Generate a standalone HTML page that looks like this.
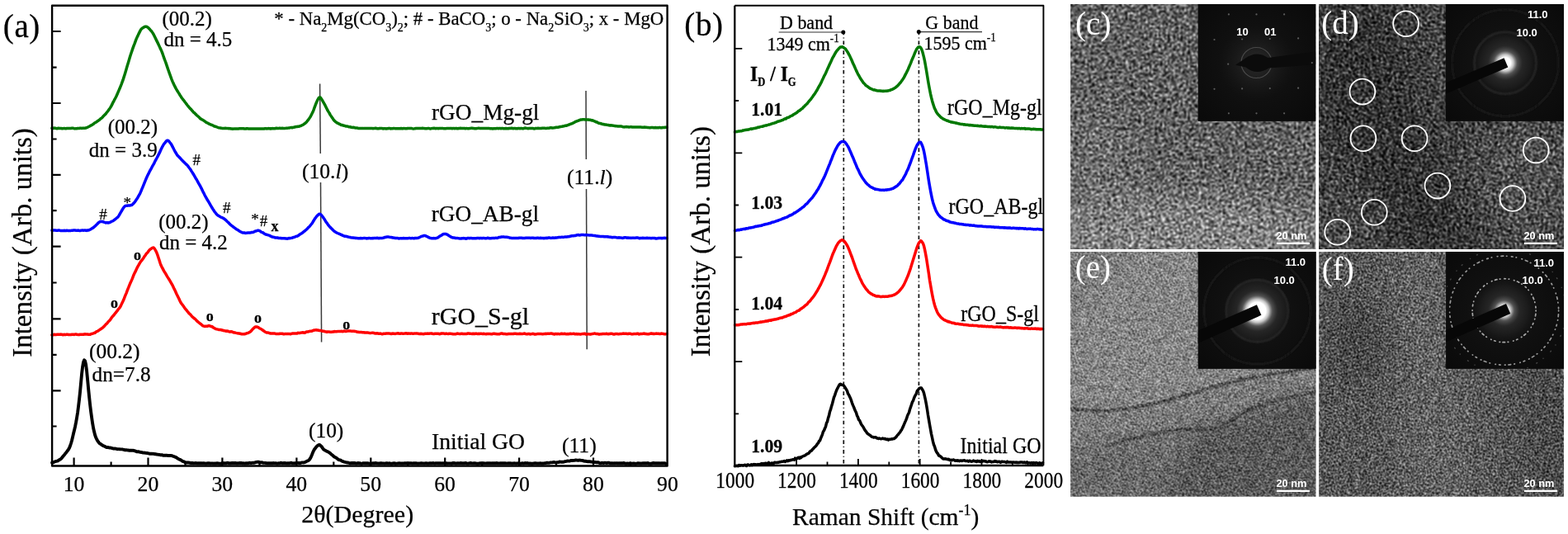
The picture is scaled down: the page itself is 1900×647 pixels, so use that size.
<!DOCTYPE html>
<html lang="en"><head><meta charset="utf-8"><title>Figure</title>
<style>html,body{margin:0;padding:0;background:#fff}body{width:1900px;height:647px;overflow:hidden}svg{display:block}</style></head>
<body>
<svg width="1900" height="647" viewBox="0 0 1900 647">
<rect width="1900" height="647" fill="#fff"/>
<g id="tem"><defs>
<filter id="txc" x="0" y="0" width="100%" height="100%" filterUnits="objectBoundingBox" color-interpolation-filters="sRGB"><feTurbulence type="fractalNoise" baseFrequency="0.45" numOctaves="1" seed="11" result="n"/><feColorMatrix in="n" type="matrix" values="1 0 0 0 0 1 0 0 0 0 1 0 0 0 0 0 0 0 0 1" result="g"/><feGaussianBlur in="g" stdDeviation="0.9" result="gb"/><feComposite in="SourceGraphic" in2="gb" operator="arithmetic" k1="0" k2="1" k3="3.1" k4="-1.55" result="c1"/><feTurbulence type="fractalNoise" baseFrequency="0.1" numOctaves="2" seed="14" result="n2"/><feColorMatrix in="n2" type="matrix" values="1 0 0 0 0 1 0 0 0 0 1 0 0 0 0 0 0 0 0 1" result="g2"/><feComposite in="c1" in2="g2" operator="arithmetic" k1="0" k2="1" k3="0.2" k4="-0.1"/><feComponentTransfer><feFuncR type="gamma" exponent="1.25"/><feFuncG type="gamma" exponent="1.25"/><feFuncB type="gamma" exponent="1.25"/></feComponentTransfer></filter>
<filter id="txd" x="0" y="0" width="100%" height="100%" filterUnits="objectBoundingBox" color-interpolation-filters="sRGB"><feTurbulence type="fractalNoise" baseFrequency="0.62" numOctaves="1" seed="23" result="n"/><feColorMatrix in="n" type="matrix" values="1 0 0 0 0 1 0 0 0 0 1 0 0 0 0 0 0 0 0 1" result="g"/><feGaussianBlur in="g" stdDeviation="0.9" result="gb"/><feComposite in="SourceGraphic" in2="gb" operator="arithmetic" k1="0" k2="1" k3="4.6" k4="-2.3" result="c1"/><feTurbulence type="fractalNoise" baseFrequency="0.12" numOctaves="2" seed="26" result="n2"/><feColorMatrix in="n2" type="matrix" values="1 0 0 0 0 1 0 0 0 0 1 0 0 0 0 0 0 0 0 1" result="g2"/><feComposite in="c1" in2="g2" operator="arithmetic" k1="0" k2="1" k3="0.25" k4="-0.125"/><feComponentTransfer><feFuncR type="gamma" exponent="1.6"/><feFuncG type="gamma" exponent="1.6"/><feFuncB type="gamma" exponent="1.6"/></feComponentTransfer></filter>
<filter id="txe" x="0" y="0" width="100%" height="100%" filterUnits="objectBoundingBox" color-interpolation-filters="sRGB"><feTurbulence type="fractalNoise" baseFrequency="0.7" numOctaves="1" seed="37" result="n"/><feColorMatrix in="n" type="matrix" values="1 0 0 0 0 1 0 0 0 0 1 0 0 0 0 0 0 0 0 1" result="g"/><feConvolveMatrix in="g" order="3" kernelMatrix="1 2 1 2 4 2 1 2 1" edgeMode="duplicate" preserveAlpha="true" result="gb"/><feComposite in="SourceGraphic" in2="gb" operator="arithmetic" k1="0" k2="1" k3="2.2" k4="-1.1" result="c1"/><feTurbulence type="fractalNoise" baseFrequency="0.12" numOctaves="2" seed="40" result="n2"/><feColorMatrix in="n2" type="matrix" values="1 0 0 0 0 1 0 0 0 0 1 0 0 0 0 0 0 0 0 1" result="g2"/><feComposite in="c1" in2="g2" operator="arithmetic" k1="0" k2="1" k3="0.22" k4="-0.11"/><feComponentTransfer><feFuncR type="gamma" exponent="1.2"/><feFuncG type="gamma" exponent="1.2"/><feFuncB type="gamma" exponent="1.2"/></feComponentTransfer></filter>
<filter id="txf" x="0" y="0" width="100%" height="100%" filterUnits="objectBoundingBox" color-interpolation-filters="sRGB"><feTurbulence type="fractalNoise" baseFrequency="0.7" numOctaves="1" seed="41" result="n"/><feColorMatrix in="n" type="matrix" values="1 0 0 0 0 1 0 0 0 0 1 0 0 0 0 0 0 0 0 1" result="g"/><feConvolveMatrix in="g" order="3" kernelMatrix="1 2 1 2 4 2 1 2 1" edgeMode="duplicate" preserveAlpha="true" result="gb"/><feComposite in="SourceGraphic" in2="gb" operator="arithmetic" k1="0" k2="1" k3="2.6" k4="-1.3" result="c1"/><feTurbulence type="fractalNoise" baseFrequency="0.12" numOctaves="2" seed="44" result="n2"/><feColorMatrix in="n2" type="matrix" values="1 0 0 0 0 1 0 0 0 0 1 0 0 0 0 0 0 0 0 1" result="g2"/><feComposite in="c1" in2="g2" operator="arithmetic" k1="0" k2="1" k3="0.22" k4="-0.11"/><feComponentTransfer><feFuncR type="gamma" exponent="1.3"/><feFuncG type="gamma" exponent="1.3"/><feFuncB type="gamma" exponent="1.3"/></feComponentTransfer></filter>
<filter id="sb3" filterUnits="userSpaceOnUse" x="1200" y="-100" width="800" height="850" color-interpolation-filters="sRGB"><feGaussianBlur stdDeviation="3"/></filter>
<filter id="sb6" filterUnits="userSpaceOnUse" x="1200" y="-100" width="800" height="850" color-interpolation-filters="sRGB"><feGaussianBlur stdDeviation="6"/></filter>
<filter id="sb12" filterUnits="userSpaceOnUse" x="1200" y="-100" width="800" height="850" color-interpolation-filters="sRGB"><feGaussianBlur stdDeviation="12"/></filter>
<filter id="sb20" filterUnits="userSpaceOnUse" x="1200" y="-100" width="800" height="850" color-interpolation-filters="sRGB"><feGaussianBlur stdDeviation="20"/></filter>
<filter id="sb1" filterUnits="userSpaceOnUse" x="1200" y="-100" width="800" height="850" color-interpolation-filters="sRGB"><feGaussianBlur stdDeviation="1.3"/></filter>
<filter id="bl1" x="-20%" y="-20%" width="140%" height="140%"><feGaussianBlur stdDeviation="0.6"/></filter>
<filter id="bl2" x="-50%" y="-50%" width="200%" height="200%"><feGaussianBlur stdDeviation="1.2"/></filter>
<radialGradient id="glowD"><stop offset="0" stop-color="#fff"/><stop offset="0.163" stop-color="#fff"/><stop offset="0.253" stop-color="#ccc" stop-opacity="0.95"/><stop offset="0.363" stop-color="#666" stop-opacity="0.75"/><stop offset="0.522" stop-color="#3a3a3a" stop-opacity="0.5"/><stop offset="0.762" stop-color="#2a2a2a" stop-opacity="0.4"/><stop offset="1" stop-color="#1a1a1a" stop-opacity="0"/></radialGradient>
<radialGradient id="glowE"><stop offset="0" stop-color="#fff"/><stop offset="0.263" stop-color="#fff"/><stop offset="0.353" stop-color="#ccc" stop-opacity="0.95"/><stop offset="0.463" stop-color="#666" stop-opacity="0.75"/><stop offset="0.623" stop-color="#3a3a3a" stop-opacity="0.5"/><stop offset="0.863" stop-color="#2a2a2a" stop-opacity="0.4"/><stop offset="1" stop-color="#1a1a1a" stop-opacity="0"/></radialGradient>
<radialGradient id="glowF"><stop offset="0" stop-color="#fff"/><stop offset="0.113" stop-color="#fff"/><stop offset="0.203" stop-color="#ccc" stop-opacity="0.95"/><stop offset="0.312" stop-color="#666" stop-opacity="0.75"/><stop offset="0.472" stop-color="#3a3a3a" stop-opacity="0.5"/><stop offset="0.713" stop-color="#2a2a2a" stop-opacity="0.4"/><stop offset="1" stop-color="#1a1a1a" stop-opacity="0"/></radialGradient>
<radialGradient id="glowC"><stop offset="0" stop-color="#2c2c2c"/><stop offset="1" stop-color="#1a1a1a" stop-opacity="0"/></radialGradient>
<radialGradient id="vign"><stop offset="0" stop-color="#161616"/><stop offset="0.5" stop-color="#0f0f0f"/><stop offset="1" stop-color="#090909"/></radialGradient>
<clipPath id="cpc"><rect x="1297.1" y="5.1" width="297.2" height="296.9"/></clipPath>
<clipPath id="cic"><rect x="1451.7" y="5.1" width="142.6" height="141.6"/></clipPath>
<clipPath id="cpd"><rect x="1598.1" y="5.1" width="296.8" height="296.9"/></clipPath>
<clipPath id="cid"><rect x="1751.8" y="5.1" width="143.1" height="141.6"/></clipPath>
<clipPath id="cpe"><rect x="1297.1" y="304.9" width="297.5" height="296.8"/></clipPath>
<clipPath id="cie"><rect x="1451.7" y="304.9" width="142.9" height="141.9"/></clipPath>
<clipPath id="cpf"><rect x="1598.2" y="304.9" width="296.7" height="296.8"/></clipPath>
<clipPath id="cif"><rect x="1752.2" y="304.9" width="142.7" height="141.9"/></clipPath>
</defs>
<g clip-path="url(#cpc)"><g filter="url(#txc)">
<rect x="1267" y="-25" width="357" height="357" fill="#767676"/>
<g filter="url(#sb20)"><ellipse cx="1420" cy="285" rx="200" ry="50" fill="#969696"/><ellipse cx="1330" cy="190" rx="50" ry="60" fill="#828282"/></g>
</g></g>
<g clip-path="url(#cpd)"><g filter="url(#txd)">
<rect x="1568.2" y="-25" width="357" height="357" fill="#717171"/>
<g filter="url(#sb20)"><path d="M1590 0 L1700 0 L1720 120 L1800 310 L1700 310 L1640 200 L1590 150 Z" fill="#5e5e5e"/><ellipse cx="1850" cy="215" rx="60" ry="70" fill="#7e7e7e"/><ellipse cx="1620" cy="270" rx="40" ry="40" fill="#767676"/></g>
</g></g>
<g clip-path="url(#cpe)"><g filter="url(#txe)">
<rect x="1267" y="275" width="357" height="357" fill="#828282"/>
<g filter="url(#sb12)"><path d="M1280 492 C1320 500 1350 499 1386 491.7 S1450 474 1481.7 465.3 S1560 450 1610 444 L1610 290 L1280 290 Z" fill="#959595"/><path d="M1280 290 L1400 290 L1330 330 L1280 400 Z" fill="#8a8a8a"/><path d="M1280 496 L1386 495 L1481 469 L1610 447 L1610 468 L1520 490 L1457 514 L1400 520 L1340 534 L1280 540 Z" fill="#8c8c8c"/><path d="M1440 523 L1520 496 L1610 473 L1610 620 L1400 620 L1430 560 Z" fill="#6b6b6b"/><path d="M1280 545 L1400 530 L1430 560 L1400 620 L1280 620 Z" fill="#7b7b7b"/></g>
<g filter="url(#sb1)" fill="none" stroke-width="3.4"><path d="M1280 492 C1320 500 1350 499 1386 491.7 S1450 474 1481.7 465.3 S1560 450 1610 444" stroke="#545454"/><path d="M1340 540 C1370 532 1385 528 1400 525 S1440 517 1457.7 521 S1500 502 1520 494 S1570 481 1610 471" stroke="#585858"/></g>
</g></g>
<g clip-path="url(#cpf)"><g filter="url(#txf)">
<rect x="1568.2" y="275" width="357" height="357" fill="#6f6f6f"/>
<g filter="url(#sb20)"><path d="M1680 290 L1760 290 L1800 620 L1700 620 Z" fill="#7b7b7b"/><ellipse cx="1645" cy="415" rx="34" ry="48" fill="#5e5e5e"/><path d="M1840 440 L1910 440 L1910 620 L1860 620 Z" fill="#626262"/></g>
</g></g>
<g clip-path="url(#cic)">
<rect x="1451.7" y="5.1" width="142.6" height="141.6" fill="#0d0d0d"/>
<circle cx="1522.5" cy="76" r="105" fill="url(#vign)"/>
<circle cx="1522.5" cy="76" r="45" fill="url(#glowC)"/>
<circle cx="1522.5" cy="76" r="18.5" fill="none" stroke="#4a4a4a" stroke-width="1.2" filter="url(#bl1)"/>
<path d="M1497.0 78.8 L1508.5 71 Q1522.5 60.5 1536.5 70 L1594.5 62.5 V78 L1537.5 82.5 Q1522.5 92 1509.5 81.5 Z" fill="#0b0b0b"/>
<g fill="#5c5c5c" filter="url(#bl1)">
<circle cx="1488.9" cy="17.4" r="1.1"/>
<circle cx="1522.5" cy="17.4" r="1.1"/>
<circle cx="1556.1" cy="17.4" r="1.1"/>
<circle cx="1471.5" cy="48.0" r="1.1"/>
<circle cx="1505.1" cy="47.5" r="1.1"/>
<circle cx="1538.8" cy="47.1" r="1.1"/>
<circle cx="1573.1" cy="46.4" r="1.1"/>
<circle cx="1488.2" cy="77.7" r="1.1"/>
<circle cx="1589.8" cy="76.1" r="1.1"/>
<circle cx="1471.5" cy="107.8" r="1.1"/>
<circle cx="1505.1" cy="107.4" r="1.1"/>
<circle cx="1538.8" cy="107.1" r="1.1"/>
<circle cx="1573.1" cy="106.7" r="1.1"/>
<circle cx="1488.9" cy="137.3" r="1.1"/>
<circle cx="1522.5" cy="137.3" r="1.1"/>
<circle cx="1556.1" cy="137.3" r="1.1"/>
</g>
</g>
<g clip-path="url(#cid)">
<rect x="1751.8" y="5.1" width="143.1" height="141.6" fill="#0d0d0d"/>
<circle cx="1824" cy="76.2" r="105" fill="url(#vign)"/>
<g fill="none" filter="url(#bl2)">
<circle cx="1824" cy="76.2" r="37.5" stroke="#343434" stroke-width="1.6"/>
<circle cx="1824" cy="76.2" r="64.5" stroke="#1c1c1c" stroke-width="2"/>
</g>
<circle cx="1824" cy="76.2" r="40" fill="url(#glowD)"/>
<g transform="translate(1824 76.2) rotate(156.8)"><rect x="-1" y="-6.1" width="115" height="12.2" fill="#070707"/></g>
</g>
<g clip-path="url(#cie)">
<rect x="1451.7" y="304.9" width="142.9" height="141.9" fill="#0d0d0d"/>
<circle cx="1523.4" cy="376.6" r="105" fill="url(#vign)"/>
<g fill="none" filter="url(#bl2)">
<circle cx="1523.4" cy="376.6" r="37.5" stroke="#343434" stroke-width="1.6"/>
<circle cx="1523.4" cy="376.6" r="64.5" stroke="#1c1c1c" stroke-width="2"/>
</g>
<circle cx="1523.4" cy="376.6" r="40" fill="url(#glowE)"/>
<g transform="translate(1523.4 376.6) rotate(156.2)"><rect x="-2.5" y="-6.8" width="115" height="13.6" fill="#070707"/></g>
</g>
<g clip-path="url(#cif)">
<rect x="1752.2" y="304.9" width="142.7" height="141.9" fill="#0d0d0d"/>
<circle cx="1822.6" cy="376.2" r="105" fill="url(#vign)"/>
<circle cx="1822.6" cy="376.2" r="40" fill="url(#glowF)"/>
<g fill="none" stroke-linecap="round" filter="url(#bl1)">
<circle cx="1822.6" cy="376.2" r="38.5" stroke="#a8a8a8" stroke-width="1.7" stroke-dasharray="0.6 3.6 2.6 3.4 0.6 5 1.6 3.8 0.4 6"/>
<circle cx="1822.6" cy="376.2" r="66" stroke="#999" stroke-width="1.7" stroke-dasharray="0.6 4.2 2.8 3.8 0.6 5.4 1.6 4.2 0.4 6.6"/>
<circle cx="1822.6" cy="376.2" r="75" stroke="#444" stroke-width="1.4" stroke-dasharray="0.1 9 1 12"/>
</g>
<g transform="translate(1822.6 376.2) rotate(156.2)"><rect x="-5.5" y="-6.5" width="115" height="13" fill="#070707"/></g>
</g>
<g fill="none" stroke="#fff" stroke-width="1.8">
<circle cx="1703.6" cy="28.7" r="15.4"/>
<circle cx="1650.9" cy="111.1" r="15.4"/>
<circle cx="1651.9" cy="167.7" r="15.4"/>
<circle cx="1714.1" cy="167.7" r="15.4"/>
<circle cx="1861.2" cy="182" r="15.4"/>
<circle cx="1741.9" cy="225.1" r="15.4"/>
<circle cx="1832.9" cy="240.5" r="15.4"/>
<circle cx="1665.3" cy="257.2" r="15.4"/>
<circle cx="1620.7" cy="281.2" r="15.4"/>
</g>
<g font-family='"Liberation Serif", serif' font-size="39" fill="#fff">
<text x="1303.1" y="41.7">(c)</text><text x="1601.3" y="41.3">(d)</text><text x="1302.8" y="336.8">(e)</text><text x="1601.7" y="338.5">(f)</text>
</g>
<g font-family='"Liberation Sans", sans-serif' font-weight="bold" fill="#fff" font-size="13">
<text x="1498.3" y="43">10</text><text x="1532" y="43">01</text>
<text x="1851" y="22">11.0</text><text x="1837.5" y="43.6">10.0</text>
<text x="1557.5" y="322">11.0</text><text x="1543.5" y="344">10.0</text>
<text x="1858.5" y="322.7">11.0</text><text x="1844.5" y="344">10.0</text>
<text x="1546.5" y="289.5" font-size="12.8">20 nm</text>
<rect x="1546.9" y="293.7" width="40" height="2.3"/>
<text x="1846.5" y="289.5" font-size="12.8">20 nm</text>
<rect x="1846.9" y="293.7" width="40" height="2.3"/>
<text x="1546.5" y="589.5" font-size="12.8">20 nm</text>
<rect x="1546.9" y="593.7" width="40" height="2.3"/>
<text x="1846.5" y="589.5" font-size="12.8">20 nm</text>
<rect x="1846.9" y="593.7" width="40" height="2.3"/>
</g></g>
<g font-family='"Liberation Serif", serif' fill="#000" stroke="#000" stroke-width="0.25" stroke-linejoin="round">
<g stroke="#3a3a3a" stroke-width="1.5" fill="none">
<line x1="387.6" y1="101.5" x2="388.3" y2="186"/><line x1="388.5" y1="221" x2="389.6" y2="414.6"/>
<line x1="710" y1="110" x2="710.3" y2="193"/><line x1="710.5" y1="229" x2="711.2" y2="423.3"/>
</g>
<polyline points="63.1,560.7 64.1,560.5 65.1,560.0 66.1,559.5 67.1,559.2 68.1,558.8 69.1,558.6 70.1,558.3 71.1,557.6 72.1,557.0 73.1,556.5 74.1,555.7 75.1,554.5 76.1,553.2 77.1,552.1 78.1,550.9 79.1,549.6 80.1,548.4 81.1,547.1 82.1,545.8 83.1,544.3 84.1,542.5 85.1,540.0 86.1,537.0 87.1,533.5 88.1,529.4 89.1,525.0 90.1,521.0 91.1,516.7 92.1,511.7 93.1,506.0 94.1,499.7 95.1,492.1 96.1,483.6 97.1,474.2 98.1,463.4 99.1,452.7 100.1,444.3 101.1,438.7 102.1,436.3 103.1,437.4 104.1,441.8 105.1,449.6 106.1,459.9 107.1,470.8 108.1,480.7 109.1,490.1 110.1,498.4 111.1,505.8 112.1,512.7 113.1,518.5 114.1,523.1 115.1,527.0 116.1,529.9 117.1,532.0 118.1,533.9 119.1,535.3 120.1,536.6 121.1,537.6 122.1,538.1 123.1,538.9 124.1,539.5 125.1,540.1 126.1,540.4 127.1,540.9 128.1,541.5 129.1,542.0 130.1,542.2 131.1,542.0 132.1,542.3 133.1,542.6 134.1,542.5 135.1,542.8 136.1,543.2 137.1,543.5 138.1,543.6 139.1,543.5 140.1,543.6 141.1,543.8 142.1,544.2 143.1,544.1 144.1,544.1 145.1,544.3 146.1,544.4 147.1,544.4 148.1,544.4 149.1,544.7 150.1,544.9 151.1,545.2 152.1,545.3 153.1,545.3 154.1,545.4 155.1,545.5 156.1,545.7 157.1,545.8 158.1,545.8 159.1,545.7 160.1,545.9 161.1,545.8 162.1,545.9 163.1,546.3 164.1,546.5 165.1,547.0 166.1,547.4 167.1,547.2 168.1,547.3 169.1,547.6 170.1,547.9 171.1,548.0 172.1,548.1 173.1,548.5 174.1,548.6 175.1,548.5 176.1,548.8 177.1,548.9 178.1,549.0 179.1,549.2 180.1,549.4 181.1,549.7 182.1,549.8 183.1,549.8 184.1,549.8 185.1,549.9 186.1,549.8 187.1,550.0 188.1,550.3 189.1,550.2 190.1,550.6 191.1,550.6 192.1,550.9 193.1,550.9 194.1,551.2 195.1,551.2 196.1,551.1 197.1,551.6 198.1,551.9 199.1,551.7 200.1,551.6 201.1,551.7 202.1,551.7 203.1,552.0 204.1,552.0 205.1,552.0 206.1,551.9 207.1,552.0 208.1,552.1 209.1,552.6 210.1,552.8 211.1,553.2 212.1,553.6 213.1,554.0 214.1,554.6 215.1,555.3 216.1,555.9 217.1,556.4 218.1,556.9 219.1,557.3 220.1,558.0 221.1,558.9 222.1,559.1 223.1,559.4 224.1,560.1 225.1,560.5 226.1,560.3 227.1,560.5 228.1,560.5 229.1,560.5 230.1,560.9 231.1,561.0 232.1,561.0 233.1,561.0 234.1,561.2 235.1,561.1 236.1,561.1 237.1,561.0 238.1,561.1 239.1,561.4 240.1,561.3 241.1,561.3 242.1,561.3 243.1,561.2 244.1,561.2 245.1,561.4 246.1,561.3 247.1,561.3 248.1,561.4 249.1,561.6 250.1,561.5 251.1,561.4 252.1,561.1 253.1,561.1 254.1,561.4 255.1,561.5 256.1,561.4 257.1,561.4 258.1,561.5 259.1,561.6 260.1,561.5 261.1,561.4 262.1,561.5 263.1,561.2 264.1,561.4 265.1,561.5 266.1,561.6 267.1,561.8 268.1,561.6 269.1,561.1 270.1,561.0 271.1,561.3 272.1,561.2 273.1,561.3 274.1,561.3 275.1,560.9 276.1,560.8 277.1,561.2 278.1,561.3 279.1,561.3 280.1,561.2 281.1,561.0 282.1,560.9 283.1,561.1 284.1,561.0 285.1,560.9 286.1,561.3 287.1,561.3 288.1,561.3 289.1,561.1 290.1,561.0 291.1,561.0 292.1,561.0 293.1,561.2 294.1,561.1 295.1,561.3 296.1,561.4 297.1,561.5 298.1,561.2 299.1,561.3 300.1,561.2 301.1,561.1 302.1,560.8 303.1,560.9 304.1,561.1 305.1,560.9 306.1,560.8 307.1,560.7 308.1,560.8 309.1,560.4 310.1,560.0 311.1,559.9 312.1,559.7 313.1,559.6 314.1,560.1 315.1,560.6 316.1,560.4 317.1,560.3 318.1,560.4 319.1,560.9 320.1,560.9 321.1,560.9 322.1,561.0 323.1,561.1 324.1,561.3 325.1,561.3 326.1,561.2 327.1,561.1 328.1,561.2 329.1,561.2 330.1,561.3 331.1,561.0 332.1,561.1 333.1,561.1 334.1,561.1 335.1,561.5 336.1,561.5 337.1,561.3 338.1,561.3 339.1,561.1 340.1,560.7 341.1,561.0 342.1,561.2 343.1,561.1 344.1,560.9 345.1,561.0 346.1,561.2 347.1,561.4 348.1,561.3 349.1,561.2 350.1,561.3 351.1,561.1 352.1,560.9 353.1,560.8 354.1,561.3 355.1,561.4 356.1,561.3 357.1,561.2 358.1,561.1 359.1,561.0 360.1,560.9 361.1,560.9 362.1,561.0 363.1,561.2 364.1,561.0 365.1,560.7 366.1,560.4 367.1,560.4 368.1,560.5 369.1,560.2 370.1,559.8 371.1,559.2 372.1,558.6 373.1,558.2 374.1,557.7 375.1,556.6 376.1,555.1 377.1,553.1 378.1,550.7 379.1,548.1 380.1,546.0 381.1,544.3 382.1,543.0 383.1,541.6 384.1,540.6 385.1,539.8 386.1,539.1 387.1,538.9 388.1,539.6 389.1,540.5 390.1,541.6 391.1,543.2 392.1,544.6 393.1,545.2 394.1,545.8 395.1,546.3 396.1,546.9 397.1,547.2 398.1,547.8 399.1,548.6 400.1,549.1 401.1,550.1 402.1,551.0 403.1,551.7 404.1,552.6 405.1,553.6 406.1,554.1 407.1,554.6 408.1,555.2 409.1,556.1 410.1,556.9 411.1,557.3 412.1,557.4 413.1,557.8 414.1,558.4 415.1,558.9 416.1,559.3 417.1,559.6 418.1,559.9 419.1,560.1 420.1,560.3 421.1,560.5 422.1,560.7 423.1,561.0 424.1,561.3 425.1,561.2 426.1,561.0 427.1,560.9 428.1,561.1 429.1,560.9 430.1,561.0 431.1,561.4 432.1,561.5 433.1,561.2 434.1,561.0 435.1,561.1 436.1,561.2 437.1,561.5 438.1,561.8 439.1,561.5 440.1,561.1 441.1,561.1 442.1,561.2 443.1,561.2 444.1,561.1 445.1,561.2 446.1,561.2 447.1,561.6 448.1,561.7 449.1,561.6 450.1,561.4 451.1,561.4 452.1,561.3 453.1,561.3 454.1,561.2 455.1,561.0 456.1,561.1 457.1,561.4 458.1,561.4 459.1,561.5 460.1,561.5 461.1,561.1 462.1,561.1 463.1,561.4 464.1,561.4 465.1,561.4 466.1,561.6 467.1,561.4 468.1,561.1 469.1,561.2 470.1,561.5 471.1,561.4 472.1,561.2 473.1,561.6 474.1,561.7 475.1,561.7 476.1,561.4 477.1,561.3 478.1,561.3 479.1,561.8 480.1,561.6 481.1,561.6 482.1,561.4 483.1,561.3 484.1,561.1 485.1,561.3 486.1,561.5 487.1,561.3 488.1,561.5 489.1,561.5 490.1,561.2 491.1,561.2 492.1,561.3 493.1,561.3 494.1,561.2 495.1,561.2 496.1,561.2 497.1,561.1 498.1,561.1 499.1,561.4 500.1,561.5 501.1,561.2 502.1,561.3 503.1,561.2 504.1,561.2 505.1,561.5 506.1,561.5 507.1,561.6 508.1,561.4 509.1,561.4 510.1,561.3 511.1,561.3 512.1,561.4 513.1,561.4 514.1,561.5 515.1,561.4 516.1,561.2 517.1,561.3 518.1,561.5 519.1,561.5 520.1,561.3 521.1,561.2 522.1,561.1 523.1,561.3 524.1,561.1 525.1,561.0 526.1,561.3 527.1,561.5 528.1,561.1 529.1,561.1 530.1,561.1 531.1,561.2 532.1,561.3 533.1,561.2 534.1,561.3 535.1,561.4 536.1,561.3 537.1,561.4 538.1,561.2 539.1,561.0 540.1,561.1 541.1,561.6 542.1,561.5 543.1,561.4 544.1,561.4 545.1,561.4 546.1,561.5 547.1,561.7 548.1,561.2 549.1,561.0 550.1,561.0 551.1,561.1 552.1,561.5 553.1,561.5 554.1,561.2 555.1,561.1 556.1,561.3 557.1,561.4 558.1,561.0 559.1,561.2 560.1,561.3 561.1,561.4 562.1,561.2 563.1,561.2 564.1,561.0 565.1,561.2 566.1,561.6 567.1,561.6 568.1,561.3 569.1,561.1 570.1,561.0 571.1,561.2 572.1,561.4 573.1,561.4 574.1,561.3 575.1,561.2 576.1,561.3 577.1,561.5 578.1,561.8 579.1,561.8 580.1,561.5 581.1,561.3 582.1,561.3 583.1,561.2 584.1,561.2 585.1,561.3 586.1,561.2 587.1,561.4 588.1,561.4 589.1,561.4 590.1,561.3 591.1,561.2 592.1,561.2 593.1,561.3 594.1,561.3 595.1,561.4 596.1,561.3 597.1,561.2 598.1,561.2 599.1,561.1 600.1,561.2 601.1,561.2 602.1,561.0 603.1,561.3 604.1,561.4 605.1,561.4 606.1,561.3 607.1,561.2 608.1,561.2 609.1,561.2 610.1,561.3 611.1,561.3 612.1,561.2 613.1,561.4 614.1,561.4 615.1,561.4 616.1,561.3 617.1,561.4 618.1,561.2 619.1,561.4 620.1,561.5 621.1,561.5 622.1,561.4 623.1,561.3 624.1,561.4 625.1,561.5 626.1,561.5 627.1,561.4 628.1,561.2 629.1,561.5 630.1,561.7 631.1,561.7 632.1,561.4 633.1,561.2 634.1,561.5 635.1,561.3 636.1,561.0 637.1,561.2 638.1,561.1 639.1,561.0 640.1,561.3 641.1,561.6 642.1,561.4 643.1,561.5 644.1,561.8 645.1,561.8 646.1,561.5 647.1,561.3 648.1,561.1 649.1,561.2 650.1,561.5 651.1,561.5 652.1,561.5 653.1,561.5 654.1,561.3 655.1,561.3 656.1,561.5 657.1,561.5 658.1,561.5 659.1,561.3 660.1,561.1 661.1,561.1 662.1,560.8 663.1,560.7 664.1,560.9 665.1,560.9 666.1,560.7 667.1,560.4 668.1,560.4 669.1,560.4 670.1,560.2 671.1,560.0 672.1,560.2 673.1,560.5 674.1,560.3 675.1,560.1 676.1,560.1 677.1,560.0 678.1,559.4 679.1,559.6 680.1,559.8 681.1,559.8 682.1,559.8 683.1,559.6 684.1,559.2 685.1,559.1 686.1,558.9 687.1,558.6 688.1,558.5 689.1,558.6 690.1,558.6 691.1,558.2 692.1,558.0 693.1,558.0 694.1,558.0 695.1,557.9 696.1,557.9 697.1,557.5 698.1,557.5 699.1,557.6 700.1,557.8 701.1,557.8 702.1,557.5 703.1,557.6 704.1,557.9 705.1,557.9 706.1,558.0 707.1,558.5 708.1,558.7 709.1,558.7 710.1,558.8 711.1,559.1 712.1,559.2 713.1,559.3 714.1,559.2 715.1,559.3 716.1,559.5 717.1,559.7 718.1,559.9 719.1,560.0 720.1,559.9 721.1,560.0 722.1,560.1 723.1,560.3 724.1,560.2 725.1,560.3 726.1,560.8 727.1,561.1 728.1,561.1 729.1,560.8 730.1,560.9 731.1,561.1 732.1,560.9 733.1,560.7 734.1,560.9 735.1,561.0 736.1,560.8 737.1,560.7 738.1,560.8 739.1,561.2 740.1,561.1 741.1,561.2 742.1,561.3 743.1,561.4 744.1,561.3 745.1,561.3 746.1,561.1 747.1,561.1 748.1,561.2 749.1,561.4 750.1,561.3 751.1,561.2 752.1,561.2 753.1,561.3 754.1,561.3 755.1,561.0 756.1,561.0 757.1,561.4 758.1,561.8 759.1,561.7 760.1,561.4 761.1,561.6 762.1,561.8 763.1,561.4 764.1,561.4 765.1,561.6 766.1,561.6 767.1,561.5 768.1,561.4 769.1,561.8 770.1,561.8 771.1,561.6 772.1,561.4 773.1,561.1 774.1,561.3 775.1,561.4 776.1,561.5 777.1,561.5 778.1,561.3 779.1,561.1 780.1,561.3 781.1,561.2 782.1,561.2 783.1,561.2 784.1,561.1 785.1,561.0 786.1,561.5 787.1,561.6 788.1,561.7 789.1,561.8 790.1,561.4 791.1,561.0 792.1,561.0 793.1,561.1 794.1,561.2 795.1,561.2 796.1,561.1 797.1,561.2 798.1,561.2 799.1,561.3 800.1,561.4 801.1,561.3 802.1,561.3 803.1,561.2 804.1,561.1 805.1,561.1 806.1,561.4 807.1,561.9" fill="none" stroke="#000" stroke-width="3.9" stroke-linejoin="round" stroke-linecap="round"/>
<polyline points="63.0,405.9 64.0,405.7 65.0,405.5 66.0,405.3 67.0,405.5 68.0,405.4 69.0,405.3 70.0,405.2 71.0,405.3 72.0,405.2 73.0,405.2 74.0,405.1 75.0,405.3 76.0,405.7 77.0,405.4 78.0,405.3 79.0,405.4 80.0,405.4 81.0,405.1 82.0,405.3 83.0,405.5 84.0,405.4 85.0,405.4 86.0,405.5 87.0,405.3 88.0,405.2 89.0,405.3 90.0,405.4 91.0,405.0 92.0,405.0 93.0,405.2 94.0,405.4 95.0,405.5 96.0,405.5 97.0,405.2 98.0,405.3 99.0,405.2 100.0,405.2 101.0,405.3 102.0,405.0 103.0,404.8 104.0,404.9 105.0,404.9 106.0,405.0 107.0,405.2 108.0,405.3 109.0,405.3 110.0,404.9 111.0,404.4 112.0,404.2 113.0,403.9 114.0,403.5 115.0,403.2 116.0,402.5 117.0,401.7 118.0,401.4 119.0,400.8 120.0,400.1 121.0,399.4 122.0,398.7 123.0,398.0 124.0,397.4 125.0,396.5 126.0,395.6 127.0,394.5 128.0,393.3 129.0,392.4 130.0,391.4 131.0,390.2 132.0,389.0 133.0,388.2 134.0,386.8 135.0,385.2 136.0,383.9 137.0,382.8 138.0,381.7 139.0,380.4 140.0,379.2 141.0,377.9 142.0,376.7 143.0,375.2 144.0,374.0 145.0,372.8 146.0,371.3 147.0,369.1 148.0,367.0 149.0,364.9 150.0,362.8 151.0,360.2 152.0,357.7 153.0,355.3 154.0,352.6 155.0,350.1 156.0,347.7 157.0,345.1 158.0,342.8 159.0,340.6 160.0,338.4 161.0,335.8 162.0,333.2 163.0,331.1 164.0,329.1 165.0,327.0 166.0,324.8 167.0,322.9 168.0,321.2 169.0,319.4 170.0,317.7 171.0,316.3 172.0,315.2 173.0,313.8 174.0,312.4 175.0,310.8 176.0,309.5 177.0,307.9 178.0,306.7 179.0,305.8 180.0,304.3 181.0,303.0 182.0,302.1 183.0,301.4 184.0,300.8 185.0,300.2 186.0,300.1 187.0,301.1 188.0,302.5 189.0,304.3 190.0,306.5 191.0,309.2 192.0,312.2 193.0,315.2 194.0,318.5 195.0,321.3 196.0,323.3 197.0,325.1 198.0,327.1 199.0,329.0 200.0,330.4 201.0,332.1 202.0,333.9 203.0,335.6 204.0,337.1 205.0,338.7 206.0,340.4 207.0,342.1 208.0,343.8 209.0,345.6 210.0,347.7 211.0,349.9 212.0,351.8 213.0,354.0 214.0,356.2 215.0,358.2 216.0,360.2 217.0,362.2 218.0,364.5 219.0,366.5 220.0,368.0 221.0,369.2 222.0,370.6 223.0,372.0 224.0,373.4 225.0,374.8 226.0,375.8 227.0,377.1 228.0,378.3 229.0,379.6 230.0,380.5 231.0,381.4 232.0,382.6 233.0,383.7 234.0,384.6 235.0,385.5 236.0,386.2 237.0,387.0 238.0,388.3 239.0,389.3 240.0,390.0 241.0,390.8 242.0,391.7 243.0,392.4 244.0,393.2 245.0,394.1 246.0,394.9 247.0,395.1 248.0,395.5 249.0,395.3 250.0,395.2 251.0,395.3 252.0,395.0 253.0,394.6 254.0,394.8 255.0,395.2 256.0,395.5 257.0,395.8 258.0,396.5 259.0,397.2 260.0,397.7 261.0,398.3 262.0,398.7 263.0,398.9 264.0,399.1 265.0,399.4 266.0,399.5 267.0,399.5 268.0,399.7 269.0,400.1 270.0,400.2 271.0,400.5 272.0,400.7 273.0,400.9 274.0,401.2 275.0,401.0 276.0,401.2 277.0,401.5 278.0,402.0 279.0,402.1 280.0,401.7 281.0,401.9 282.0,402.4 283.0,402.8 284.0,403.0 285.0,403.1 286.0,403.4 287.0,403.6 288.0,403.8 289.0,404.0 290.0,403.9 291.0,404.3 292.0,404.5 293.0,404.8 294.0,404.8 295.0,404.7 296.0,404.8 297.0,404.5 298.0,404.2 299.0,403.8 300.0,403.6 301.0,403.3 302.0,402.8 303.0,402.1 304.0,401.3 305.0,400.2 306.0,399.0 307.0,398.0 308.0,397.1 309.0,396.2 310.0,395.9 311.0,396.0 312.0,396.3 313.0,396.7 314.0,397.5 315.0,398.0 316.0,398.5 317.0,399.0 318.0,399.8 319.0,400.5 320.0,401.2 321.0,402.0 322.0,402.5 323.0,403.0 324.0,403.1 325.0,403.1 326.0,403.4 327.0,403.8 328.0,404.0 329.0,404.1 330.0,404.0 331.0,403.9 332.0,404.0 333.0,404.0 334.0,404.4 335.0,404.4 336.0,404.4 337.0,404.5 338.0,404.6 339.0,404.3 340.0,404.2 341.0,404.2 342.0,404.2 343.0,404.5 344.0,404.8 345.0,404.6 346.0,404.6 347.0,404.4 348.0,404.5 349.0,404.4 350.0,404.4 351.0,404.6 352.0,404.7 353.0,404.4 354.0,404.1 355.0,404.0 356.0,404.0 357.0,404.0 358.0,404.0 359.0,403.9 360.0,403.9 361.0,403.3 362.0,403.4 363.0,403.5 364.0,403.3 365.0,403.1 366.0,403.0 367.0,402.8 368.0,403.0 369.0,403.3 370.0,402.9 371.0,402.2 372.0,401.9 373.0,401.9 374.0,401.8 375.0,401.4 376.0,401.2 377.0,401.3 378.0,401.1 379.0,400.6 380.0,400.2 381.0,400.0 382.0,399.9 383.0,399.7 384.0,400.0 385.0,400.0 386.0,400.2 387.0,400.6 388.0,400.6 389.0,400.5 390.0,401.0 391.0,401.3 392.0,401.3 393.0,401.5 394.0,401.8 395.0,401.9 396.0,402.3 397.0,401.9 398.0,401.9 399.0,402.1 400.0,402.2 401.0,402.2 402.0,402.2 403.0,402.1 404.0,402.1 405.0,401.6 406.0,401.7 407.0,401.7 408.0,401.7 409.0,401.6 410.0,401.4 411.0,401.4 412.0,401.5 413.0,401.4 414.0,401.3 415.0,401.7 416.0,401.6 417.0,401.0 418.0,401.2 419.0,401.6 420.0,401.3 421.0,401.1 422.0,401.0 423.0,400.9 424.0,401.0 425.0,401.1 426.0,401.3 427.0,401.3 428.0,401.2 429.0,401.3 430.0,401.5 431.0,401.6 432.0,401.9 433.0,402.2 434.0,402.3 435.0,402.4 436.0,402.5 437.0,402.5 438.0,402.6 439.0,402.7 440.0,402.8 441.0,402.8 442.0,403.1 443.0,403.1 444.0,403.0 445.0,403.0 446.0,403.1 447.0,403.3 448.0,403.4 449.0,403.6 450.0,403.4 451.0,403.2 452.0,403.3 453.0,403.4 454.0,403.8 455.0,404.1 456.0,404.0 457.0,403.7 458.0,403.9 459.0,404.3 460.0,404.2 461.0,404.1 462.0,404.4 463.0,404.7 464.0,404.5 465.0,404.2 466.0,404.2 467.0,404.2 468.0,404.0 469.0,403.9 470.0,404.0 471.0,404.0 472.0,404.1 473.0,404.3 474.0,404.5 475.0,404.2 476.0,404.1 477.0,404.2 478.0,404.3 479.0,404.4 480.0,404.1 481.0,403.9 482.0,403.8 483.0,404.0 484.0,404.2 485.0,404.2 486.0,404.0 487.0,404.1 488.0,404.2 489.0,404.3 490.0,404.1 491.0,404.0 492.0,403.8 493.0,404.0 494.0,404.3 495.0,403.9 496.0,404.1 497.0,404.2 498.0,404.1 499.0,404.1 500.0,404.2 501.0,404.2 502.0,404.1 503.0,403.9 504.0,404.1 505.0,404.1 506.0,404.1 507.0,404.3 508.0,404.5 509.0,404.5 510.0,404.3 511.0,404.5 512.0,404.6 513.0,404.7 514.0,404.6 515.0,404.3 516.0,404.3 517.0,404.3 518.0,404.1 519.0,404.2 520.0,404.2 521.0,404.1 522.0,403.9 523.0,404.0 524.0,404.3 525.0,404.5 526.0,404.5 527.0,404.3 528.0,404.2 529.0,404.2 530.0,404.3 531.0,404.3 532.0,404.5 533.0,404.7 534.0,404.3 535.0,404.0 536.0,404.0 537.0,403.9 538.0,404.1 539.0,404.5 540.0,404.3 541.0,404.1 542.0,404.4 543.0,404.6 544.0,404.3 545.0,404.2 546.0,404.2 547.0,404.4 548.0,404.5 549.0,404.7 550.0,404.7 551.0,404.7 552.0,404.7 553.0,404.5 554.0,404.1 555.0,404.2 556.0,404.4 557.0,404.4 558.0,404.5 559.0,404.3 560.0,404.3 561.0,404.6 562.0,404.6 563.0,404.5 564.0,404.6 565.0,404.6 566.0,404.3 567.0,403.9 568.0,404.0 569.0,404.2 570.0,404.2 571.0,404.4 572.0,404.6 573.0,404.3 574.0,404.3 575.0,404.6 576.0,404.3 577.0,404.1 578.0,404.4 579.0,404.4 580.0,404.3 581.0,404.4 582.0,404.3 583.0,404.2 584.0,404.4 585.0,404.5 586.0,404.3 587.0,404.4 588.0,404.6 589.0,404.8 590.0,404.5 591.0,404.6 592.0,404.5 593.0,404.4 594.0,404.6 595.0,404.7 596.0,404.7 597.0,404.5 598.0,404.3 599.0,404.3 600.0,404.5 601.0,404.6 602.0,404.7 603.0,404.7 604.0,404.7 605.0,404.8 606.0,404.4 607.0,404.1 608.0,404.0 609.0,404.2 610.0,404.6 611.0,404.5 612.0,404.6 613.0,404.7 614.0,404.9 615.0,404.7 616.0,404.5 617.0,404.4 618.0,404.5 619.0,404.4 620.0,404.4 621.0,404.5 622.0,404.6 623.0,404.3 624.0,404.3 625.0,404.3 626.0,404.5 627.0,404.6 628.0,404.6 629.0,404.5 630.0,404.3 631.0,404.5 632.0,404.5 633.0,404.6 634.0,404.4 635.0,404.0 636.0,404.2 637.0,404.6 638.0,404.8 639.0,404.7 640.0,404.5 641.0,404.4 642.0,404.8 643.0,404.9 644.0,404.6 645.0,404.4 646.0,404.3 647.0,404.7 648.0,405.1 649.0,404.9 650.0,404.8 651.0,404.6 652.0,404.5 653.0,404.6 654.0,404.4 655.0,404.4 656.0,404.6 657.0,404.7 658.0,404.7 659.0,404.6 660.0,404.4 661.0,404.3 662.0,404.4 663.0,404.3 664.0,404.2 665.0,404.2 666.0,404.3 667.0,404.1 668.0,404.1 669.0,404.2 670.0,404.5 671.0,404.8 672.0,404.9 673.0,404.4 674.0,404.4 675.0,404.7 676.0,404.6 677.0,404.6 678.0,404.8 679.0,404.6 680.0,404.3 681.0,404.3 682.0,404.6 683.0,404.6 684.0,404.3 685.0,404.4 686.0,404.7 687.0,404.7 688.0,404.6 689.0,404.7 690.0,404.6 691.0,404.3 692.0,404.5 693.0,404.6 694.0,404.4 695.0,404.2 696.0,404.5 697.0,404.8 698.0,404.8 699.0,404.5 700.0,404.9 701.0,404.6 702.0,404.8 703.0,404.9 704.0,404.9 705.0,404.6 706.0,404.4 707.0,404.6 708.0,404.3 709.0,404.3 710.0,405.0 711.0,405.0 712.0,404.9 713.0,404.7 714.0,404.9 715.0,405.1 716.0,405.0 717.0,404.6 718.0,404.4 719.0,404.3 720.0,404.1 721.0,404.1 722.0,404.4 723.0,404.4 724.0,404.5 725.0,404.7 726.0,405.0 727.0,404.9 728.0,404.7 729.0,404.7 730.0,404.5 731.0,404.5 732.0,404.6 733.0,404.4 734.0,404.4 735.0,404.3 736.0,404.6 737.0,404.8 738.0,404.5 739.0,404.5 740.0,404.3 741.0,404.2 742.0,404.4 743.0,404.9 744.0,405.1 745.0,404.7 746.0,404.5 747.0,404.6 748.0,404.6 749.0,404.7 750.0,404.7 751.0,404.6 752.0,404.6 753.0,404.4 754.0,404.3 755.0,404.1 756.0,404.2 757.0,404.2 758.0,404.3 759.0,404.3 760.0,404.5 761.0,404.5 762.0,404.2 763.0,404.2 764.0,404.3 765.0,404.7 766.0,404.9 767.0,404.7 768.0,404.6 769.0,404.6 770.0,404.4 771.0,404.6 772.0,404.3 773.0,404.1 774.0,404.9 775.0,404.8 776.0,404.4 777.0,404.4 778.0,404.4 779.0,404.3 780.0,404.1 781.0,404.2 782.0,404.5 783.0,404.6 784.0,404.7 785.0,404.7 786.0,404.8 787.0,404.4 788.0,404.3 789.0,404.0 790.0,404.1 791.0,404.5 792.0,404.3 793.0,404.4 794.0,404.3 795.0,404.1 796.0,404.2 797.0,404.2 798.0,404.3 799.0,404.5 800.0,404.5 801.0,404.2 802.0,404.1 803.0,404.3 804.0,404.4 805.0,404.7 806.0,404.9 807.0,404.6 808.0,404.4" fill="none" stroke="#f00" stroke-width="3.5" stroke-linejoin="round" stroke-linecap="round"/>
<polyline points="63.0,279.1 64.0,279.0 65.0,279.0 66.0,279.0 67.0,279.1 68.0,279.2 69.0,279.3 70.0,279.2 71.0,279.1 72.0,279.1 73.0,279.4 74.0,279.4 75.0,279.5 76.0,279.5 77.0,279.4 78.0,279.3 79.0,279.4 80.0,279.5 81.0,279.2 82.0,279.4 83.0,279.5 84.0,279.4 85.0,279.4 86.0,279.4 87.0,279.2 88.0,279.2 89.0,279.1 90.0,279.0 91.0,279.1 92.0,279.2 93.0,279.2 94.0,279.2 95.0,279.1 96.0,279.4 97.0,279.5 98.0,279.3 99.0,279.1 100.0,279.1 101.0,279.2 102.0,279.1 103.0,278.9 104.0,279.2 105.0,279.4 106.0,278.9 107.0,279.0 108.0,278.8 109.0,278.3 110.0,277.8 111.0,277.0 112.0,276.4 113.0,275.9 114.0,275.0 115.0,274.1 116.0,273.2 117.0,272.2 118.0,271.3 119.0,270.2 120.0,269.4 121.0,268.7 122.0,268.6 123.0,268.5 124.0,268.4 125.0,268.8 126.0,269.1 127.0,269.5 128.0,269.9 129.0,269.8 130.0,269.8 131.0,270.0 132.0,269.8 133.0,269.6 134.0,269.0 135.0,268.4 136.0,268.0 137.0,267.6 138.0,266.9 139.0,266.1 140.0,265.3 141.0,264.5 142.0,263.7 143.0,262.9 144.0,261.4 145.0,259.6 146.0,257.9 147.0,256.2 148.0,254.5 149.0,252.7 150.0,251.2 151.0,250.2 152.0,249.4 153.0,249.2 154.0,249.2 155.0,249.1 156.0,249.0 157.0,249.0 158.0,248.8 159.0,248.5 160.0,248.2 161.0,247.3 162.0,246.2 163.0,245.1 164.0,243.8 165.0,242.2 166.0,240.8 167.0,239.2 168.0,237.4 169.0,235.7 170.0,233.7 171.0,231.3 172.0,228.9 173.0,226.6 174.0,224.2 175.0,221.7 176.0,219.1 177.0,216.8 178.0,214.4 179.0,212.3 180.0,210.4 181.0,208.3 182.0,206.4 183.0,204.6 184.0,202.7 185.0,200.8 186.0,199.1 187.0,197.3 188.0,195.1 189.0,193.3 190.0,191.5 191.0,189.6 192.0,187.6 193.0,185.6 194.0,183.6 195.0,181.3 196.0,179.3 197.0,177.3 198.0,175.5 199.0,174.1 200.0,172.9 201.0,171.6 202.0,170.5 203.0,170.2 204.0,170.5 205.0,171.5 206.0,172.8 207.0,174.0 208.0,175.6 209.0,177.6 210.0,179.5 211.0,181.5 212.0,183.3 213.0,185.0 214.0,186.7 215.0,188.2 216.0,189.2 217.0,190.2 218.0,191.3 219.0,192.4 220.0,193.5 221.0,194.5 222.0,195.6 223.0,196.5 224.0,197.5 225.0,198.4 226.0,199.4 227.0,200.3 228.0,201.6 229.0,203.0 230.0,204.3 231.0,205.6 232.0,207.4 233.0,208.9 234.0,210.5 235.0,212.2 236.0,213.9 237.0,215.7 238.0,217.2 239.0,219.0 240.0,220.9 241.0,222.7 242.0,224.4 243.0,226.2 244.0,228.1 245.0,230.2 246.0,232.3 247.0,234.1 248.0,236.3 249.0,238.2 250.0,239.9 251.0,241.8 252.0,243.3 253.0,244.9 254.0,246.6 255.0,248.4 256.0,250.1 257.0,251.8 258.0,253.4 259.0,254.8 260.0,256.5 261.0,257.7 262.0,259.0 263.0,260.1 264.0,260.9 265.0,261.5 266.0,262.1 267.0,262.8 268.0,263.3 269.0,263.7 270.0,264.1 271.0,264.6 272.0,265.4 273.0,266.3 274.0,267.0 275.0,268.2 276.0,269.0 277.0,269.9 278.0,271.0 279.0,272.0 280.0,272.9 281.0,273.6 282.0,274.3 283.0,275.2 284.0,275.9 285.0,276.6 286.0,277.4 287.0,278.0 288.0,278.6 289.0,279.2 290.0,280.0 291.0,280.6 292.0,281.0 293.0,281.6 294.0,282.0 295.0,282.1 296.0,282.0 297.0,282.3 298.0,282.4 299.0,282.2 300.0,282.1 301.0,281.9 302.0,282.0 303.0,281.9 304.0,281.8 305.0,281.5 306.0,281.5 307.0,281.2 308.0,280.8 309.0,280.2 310.0,279.9 311.0,279.8 312.0,279.3 313.0,279.3 314.0,279.5 315.0,279.9 316.0,280.7 317.0,281.4 318.0,281.6 319.0,282.1 320.0,283.0 321.0,283.6 322.0,284.0 323.0,284.3 324.0,284.5 325.0,284.9 326.0,285.1 327.0,285.5 328.0,286.2 329.0,286.6 330.0,287.1 331.0,287.2 332.0,287.4 333.0,287.8 334.0,288.1 335.0,288.1 336.0,288.0 337.0,288.3 338.0,288.6 339.0,288.5 340.0,288.5 341.0,288.8 342.0,288.8 343.0,288.7 344.0,288.8 345.0,288.8 346.0,289.0 347.0,289.1 348.0,289.2 349.0,289.0 350.0,288.6 351.0,288.7 352.0,288.6 353.0,288.4 354.0,288.2 355.0,287.7 356.0,287.4 357.0,287.3 358.0,286.8 359.0,286.3 360.0,286.2 361.0,285.7 362.0,285.0 363.0,284.3 364.0,283.6 365.0,283.0 366.0,282.4 367.0,281.7 368.0,280.7 369.0,280.1 370.0,279.2 371.0,278.3 372.0,277.5 373.0,276.4 374.0,275.3 375.0,274.5 376.0,273.2 377.0,272.0 378.0,270.7 379.0,269.2 380.0,267.5 381.0,265.9 382.0,264.3 383.0,263.1 384.0,261.7 385.0,260.7 386.0,260.0 387.0,259.3 388.0,259.4 389.0,260.3 390.0,261.3 391.0,262.5 392.0,264.0 393.0,265.4 394.0,267.1 395.0,268.8 396.0,270.1 397.0,271.5 398.0,272.9 399.0,274.1 400.0,275.2 401.0,276.3 402.0,277.1 403.0,278.2 404.0,279.2 405.0,280.1 406.0,280.8 407.0,281.4 408.0,282.0 409.0,282.5 410.0,282.9 411.0,283.2 412.0,283.7 413.0,284.3 414.0,284.6 415.0,285.1 416.0,285.6 417.0,286.0 418.0,286.3 419.0,286.3 420.0,286.4 421.0,286.8 422.0,287.1 423.0,287.3 424.0,287.4 425.0,287.7 426.0,287.9 427.0,288.0 428.0,288.1 429.0,288.2 430.0,288.3 431.0,288.5 432.0,288.6 433.0,288.6 434.0,288.8 435.0,288.7 436.0,288.7 437.0,288.6 438.0,288.7 439.0,288.8 440.0,288.6 441.0,288.4 442.0,288.4 443.0,288.6 444.0,288.9 445.0,288.8 446.0,288.7 447.0,288.5 448.0,288.6 449.0,288.8 450.0,288.8 451.0,288.6 452.0,288.7 453.0,288.6 454.0,288.5 455.0,288.5 456.0,288.4 457.0,288.3 458.0,288.6 459.0,288.7 460.0,288.5 461.0,288.4 462.0,288.6 463.0,288.4 464.0,288.3 465.0,288.1 466.0,287.6 467.0,287.5 468.0,287.2 469.0,287.1 470.0,287.0 471.0,287.1 472.0,287.3 473.0,287.4 474.0,287.5 475.0,287.7 476.0,288.0 477.0,288.1 478.0,288.3 479.0,288.5 480.0,288.5 481.0,288.5 482.0,288.6 483.0,288.9 484.0,288.9 485.0,288.7 486.0,288.7 487.0,288.9 488.0,288.7 489.0,288.6 490.0,288.7 491.0,288.7 492.0,288.8 493.0,288.8 494.0,288.8 495.0,288.6 496.0,288.6 497.0,288.6 498.0,288.8 499.0,288.6 500.0,288.6 501.0,288.8 502.0,288.8 503.0,288.5 504.0,288.4 505.0,288.4 506.0,288.4 507.0,288.2 508.0,287.7 509.0,287.2 510.0,286.7 511.0,286.3 512.0,286.1 513.0,285.8 514.0,285.4 515.0,285.5 516.0,285.9 517.0,286.4 518.0,286.8 519.0,287.4 520.0,287.9 521.0,288.4 522.0,288.6 523.0,288.7 524.0,288.7 525.0,288.7 526.0,288.6 527.0,288.8 528.0,288.7 529.0,288.4 530.0,288.1 531.0,287.6 532.0,286.7 533.0,286.1 534.0,285.7 535.0,285.1 536.0,284.3 537.0,283.7 538.0,283.5 539.0,283.4 540.0,283.4 541.0,283.8 542.0,284.2 543.0,284.8 544.0,285.6 545.0,286.2 546.0,286.8 547.0,287.4 548.0,287.8 549.0,288.0 550.0,288.1 551.0,288.2 552.0,288.6 553.0,288.6 554.0,288.4 555.0,288.6 556.0,288.8 557.0,288.9 558.0,289.1 559.0,289.0 560.0,288.8 561.0,288.7 562.0,288.6 563.0,288.8 564.0,289.0 565.0,289.2 566.0,288.8 567.0,288.5 568.0,288.6 569.0,288.7 570.0,288.6 571.0,288.6 572.0,288.7 573.0,288.8 574.0,288.7 575.0,288.7 576.0,288.8 577.0,288.7 578.0,288.6 579.0,288.5 580.0,288.6 581.0,288.7 582.0,288.5 583.0,288.6 584.0,288.7 585.0,288.6 586.0,288.6 587.0,288.6 588.0,288.8 589.0,288.8 590.0,288.6 591.0,288.3 592.0,288.4 593.0,288.7 594.0,288.8 595.0,288.7 596.0,288.6 597.0,288.4 598.0,288.4 599.0,288.4 600.0,288.4 601.0,288.2 602.0,288.4 603.0,288.3 604.0,287.8 605.0,287.5 606.0,287.5 607.0,287.2 608.0,286.9 609.0,287.1 610.0,287.1 611.0,287.1 612.0,287.3 613.0,287.3 614.0,287.3 615.0,287.5 616.0,287.6 617.0,287.9 618.0,288.2 619.0,288.3 620.0,288.4 621.0,288.6 622.0,288.6 623.0,288.6 624.0,288.5 625.0,288.6 626.0,288.6 627.0,288.6 628.0,288.6 629.0,288.3 630.0,288.3 631.0,288.2 632.0,288.3 633.0,288.5 634.0,288.6 635.0,288.4 636.0,288.4 637.0,288.3 638.0,288.2 639.0,288.2 640.0,288.3 641.0,288.2 642.0,288.3 643.0,288.4 644.0,288.3 645.0,288.2 646.0,288.2 647.0,288.5 648.0,288.4 649.0,288.6 650.0,288.5 651.0,288.3 652.0,288.3 653.0,288.6 654.0,288.6 655.0,288.3 656.0,288.4 657.0,288.5 658.0,288.6 659.0,288.7 660.0,288.4 661.0,288.4 662.0,288.3 663.0,288.6 664.0,288.2 665.0,288.0 666.0,288.1 667.0,288.3 668.0,288.4 669.0,288.2 670.0,288.1 671.0,288.2 672.0,288.2 673.0,288.0 674.0,288.0 675.0,287.9 676.0,287.7 677.0,287.6 678.0,287.5 679.0,287.4 680.0,287.4 681.0,287.2 682.0,287.4 683.0,287.3 684.0,287.1 685.0,286.9 686.0,286.9 687.0,286.9 688.0,286.8 689.0,286.7 690.0,286.5 691.0,286.2 692.0,286.0 693.0,285.8 694.0,285.8 695.0,285.7 696.0,285.5 697.0,285.5 698.0,285.2 699.0,284.7 700.0,284.7 701.0,284.6 702.0,284.9 703.0,285.0 704.0,284.6 705.0,284.5 706.0,284.5 707.0,284.6 708.0,284.7 709.0,284.7 710.0,284.6 711.0,284.8 712.0,284.7 713.0,284.9 714.0,285.1 715.0,285.1 716.0,285.0 717.0,285.1 718.0,285.2 719.0,285.4 720.0,285.6 721.0,285.5 722.0,285.8 723.0,286.0 724.0,286.0 725.0,286.2 726.0,286.3 727.0,286.4 728.0,286.4 729.0,286.6 730.0,286.6 731.0,286.4 732.0,286.7 733.0,286.7 734.0,286.7 735.0,286.7 736.0,286.7 737.0,287.0 738.0,287.1 739.0,287.3 740.0,287.3 741.0,287.6 742.0,287.7 743.0,287.6 744.0,287.6 745.0,287.6 746.0,287.6 747.0,287.8 748.0,287.9 749.0,287.9 750.0,287.8 751.0,287.9 752.0,287.9 753.0,288.1 754.0,288.4 755.0,288.3 756.0,288.0 757.0,287.8 758.0,287.8 759.0,287.9 760.0,288.2 761.0,288.1 762.0,288.2 763.0,288.2 764.0,288.3 765.0,288.4 766.0,288.2 767.0,288.2 768.0,288.2 769.0,288.4 770.0,288.2 771.0,288.1 772.0,288.1 773.0,288.1 774.0,288.5 775.0,288.7 776.0,288.5 777.0,288.5 778.0,288.5 779.0,288.3 780.0,288.4 781.0,288.4 782.0,288.5 783.0,288.6 784.0,288.3 785.0,288.5 786.0,288.5 787.0,288.5 788.0,288.6 789.0,288.7 790.0,288.6 791.0,288.6 792.0,288.6 793.0,288.4 794.0,288.8 795.0,289.0 796.0,288.9 797.0,288.7 798.0,288.4 799.0,288.5 800.0,288.4 801.0,288.5 802.0,288.7 803.0,288.5 804.0,288.4 805.0,288.3 806.0,288.5 807.0,288.6 808.0,288.5" fill="none" stroke="#00f" stroke-width="3.5" stroke-linejoin="round" stroke-linecap="round"/>
<polyline points="63.0,155.3 64.0,155.5 65.0,155.2 66.0,155.1 67.0,155.3 68.0,155.6 69.0,155.8 70.0,155.5 71.0,155.3 72.0,155.4 73.0,155.5 74.0,155.5 75.0,155.7 76.0,155.8 77.0,155.6 78.0,155.6 79.0,155.7 80.0,155.7 81.0,155.5 82.0,155.6 83.0,155.5 84.0,155.4 85.0,155.5 86.0,155.4 87.0,155.3 88.0,155.2 89.0,155.4 90.0,155.7 91.0,155.9 92.0,155.7 93.0,155.7 94.0,155.5 95.0,155.5 96.0,155.5 97.0,155.3 98.0,155.3 99.0,155.4 100.0,155.3 101.0,155.2 102.0,155.3 103.0,155.2 104.0,155.1 105.0,154.7 106.0,154.3 107.0,153.8 108.0,153.3 109.0,152.7 110.0,152.1 111.0,151.7 112.0,151.1 113.0,150.4 114.0,149.4 115.0,148.8 116.0,148.3 117.0,147.7 118.0,146.9 119.0,146.2 120.0,145.6 121.0,144.7 122.0,143.8 123.0,143.1 124.0,142.2 125.0,141.1 126.0,140.1 127.0,139.0 128.0,138.1 129.0,136.8 130.0,135.5 131.0,134.2 132.0,132.8 133.0,131.4 134.0,129.9 135.0,128.1 136.0,126.1 137.0,124.0 138.0,122.3 139.0,120.3 140.0,118.5 141.0,116.5 142.0,114.3 143.0,111.9 144.0,109.6 145.0,107.3 146.0,104.8 147.0,102.3 148.0,99.6 149.0,97.0 150.0,93.9 151.0,90.7 152.0,87.4 153.0,84.0 154.0,80.6 155.0,77.3 156.0,74.0 157.0,70.6 158.0,67.2 159.0,64.2 160.0,61.4 161.0,58.4 162.0,55.6 163.0,53.1 164.0,50.4 165.0,47.7 166.0,45.3 167.0,43.4 168.0,41.1 169.0,39.1 170.0,37.1 171.0,35.4 172.0,34.4 173.0,33.8 174.0,33.2 175.0,32.6 176.0,32.2 177.0,32.2 178.0,32.5 179.0,33.0 180.0,33.9 181.0,34.9 182.0,36.1 183.0,37.2 184.0,38.4 185.0,39.9 186.0,41.5 187.0,43.5 188.0,45.6 189.0,47.6 190.0,49.6 191.0,51.6 192.0,53.7 193.0,55.9 194.0,58.1 195.0,60.1 196.0,62.4 197.0,65.0 198.0,68.0 199.0,70.8 200.0,73.5 201.0,76.1 202.0,79.1 203.0,82.1 204.0,85.0 205.0,87.9 206.0,90.7 207.0,93.4 208.0,96.1 209.0,98.6 210.0,100.8 211.0,102.9 212.0,104.9 213.0,106.9 214.0,108.6 215.0,110.3 216.0,111.9 217.0,113.4 218.0,115.2 219.0,116.6 220.0,118.2 221.0,119.6 222.0,120.8 223.0,122.1 224.0,123.5 225.0,124.8 226.0,126.1 227.0,127.5 228.0,128.7 229.0,129.9 230.0,131.0 231.0,132.1 232.0,133.1 233.0,134.3 234.0,135.4 235.0,136.4 236.0,137.2 237.0,138.2 238.0,139.3 239.0,140.2 240.0,141.0 241.0,141.8 242.0,142.9 243.0,143.9 244.0,144.4 245.0,145.0 246.0,145.6 247.0,146.0 248.0,146.9 249.0,147.6 250.0,148.4 251.0,148.8 252.0,149.3 253.0,149.9 254.0,150.4 255.0,150.8 256.0,151.2 257.0,151.5 258.0,152.0 259.0,152.6 260.0,153.1 261.0,153.3 262.0,153.6 263.0,154.0 264.0,154.4 265.0,154.7 266.0,154.9 267.0,155.0 268.0,155.2 269.0,155.4 270.0,155.5 271.0,155.5 272.0,155.4 273.0,155.3 274.0,155.4 275.0,155.4 276.0,155.6 277.0,155.7 278.0,155.6 279.0,155.8 280.0,156.0 281.0,156.0 282.0,156.2 283.0,156.1 284.0,155.9 285.0,156.0 286.0,156.0 287.0,156.0 288.0,156.0 289.0,155.9 290.0,155.8 291.0,155.8 292.0,155.8 293.0,155.8 294.0,155.7 295.0,155.8 296.0,156.0 297.0,156.0 298.0,156.0 299.0,155.7 300.0,155.8 301.0,155.9 302.0,155.9 303.0,156.0 304.0,156.1 305.0,156.0 306.0,156.0 307.0,156.0 308.0,156.1 309.0,156.0 310.0,156.1 311.0,156.1 312.0,156.0 313.0,156.0 314.0,156.1 315.0,156.1 316.0,156.1 317.0,156.0 318.0,156.0 319.0,156.0 320.0,156.0 321.0,155.8 322.0,155.6 323.0,155.9 324.0,155.8 325.0,155.6 326.0,155.7 327.0,155.7 328.0,156.0 329.0,155.8 330.0,155.6 331.0,155.7 332.0,155.7 333.0,155.8 334.0,155.5 335.0,155.3 336.0,155.5 337.0,155.5 338.0,155.4 339.0,155.2 340.0,155.5 341.0,155.6 342.0,155.3 343.0,155.4 344.0,155.4 345.0,155.6 346.0,155.4 347.0,155.2 348.0,155.3 349.0,155.1 350.0,154.9 351.0,154.9 352.0,154.6 353.0,154.4 354.0,154.7 355.0,154.4 356.0,154.2 357.0,154.1 358.0,153.7 359.0,153.5 360.0,153.5 361.0,153.3 362.0,153.2 363.0,153.0 364.0,152.6 365.0,152.3 366.0,151.8 367.0,151.2 368.0,150.7 369.0,149.9 370.0,149.2 371.0,148.3 372.0,147.1 373.0,145.8 374.0,144.6 375.0,143.1 376.0,141.6 377.0,139.7 378.0,137.7 379.0,135.8 380.0,133.4 381.0,130.5 382.0,127.9 383.0,125.2 384.0,122.9 385.0,120.8 386.0,119.0 387.0,117.9 388.0,118.0 389.0,119.1 390.0,120.6 391.0,122.3 392.0,124.2 393.0,125.9 394.0,127.7 395.0,129.7 396.0,131.7 397.0,133.8 398.0,135.4 399.0,136.9 400.0,138.9 401.0,140.4 402.0,141.9 403.0,143.2 404.0,144.9 405.0,146.1 406.0,147.0 407.0,147.9 408.0,148.6 409.0,149.1 410.0,149.7 411.0,150.1 412.0,150.6 413.0,151.2 414.0,151.5 415.0,151.6 416.0,152.1 417.0,152.3 418.0,152.5 419.0,152.9 420.0,153.0 421.0,153.0 422.0,153.4 423.0,153.8 424.0,153.7 425.0,154.0 426.0,154.3 427.0,154.4 428.0,154.3 429.0,154.5 430.0,154.8 431.0,155.0 432.0,154.9 433.0,155.0 434.0,155.4 435.0,155.5 436.0,155.5 437.0,155.4 438.0,155.5 439.0,155.6 440.0,155.6 441.0,155.4 442.0,155.5 443.0,155.4 444.0,155.4 445.0,155.5 446.0,155.5 447.0,155.5 448.0,155.5 449.0,155.4 450.0,155.5 451.0,155.6 452.0,155.7 453.0,155.6 454.0,155.4 455.0,155.3 456.0,155.5 457.0,155.7 458.0,155.9 459.0,155.7 460.0,155.5 461.0,155.6 462.0,155.4 463.0,155.5 464.0,155.9 465.0,155.8 466.0,155.7 467.0,155.8 468.0,155.9 469.0,155.8 470.0,155.7 471.0,155.4 472.0,155.4 473.0,155.8 474.0,155.9 475.0,155.7 476.0,155.7 477.0,155.6 478.0,155.6 479.0,155.8 480.0,155.8 481.0,155.7 482.0,155.7 483.0,155.8 484.0,155.8 485.0,155.7 486.0,155.5 487.0,155.7 488.0,155.9 489.0,155.6 490.0,155.6 491.0,155.8 492.0,155.8 493.0,155.7 494.0,155.4 495.0,155.5 496.0,155.4 497.0,155.5 498.0,155.6 499.0,155.6 500.0,155.9 501.0,156.1 502.0,155.9 503.0,155.7 504.0,155.5 505.0,155.4 506.0,155.4 507.0,155.4 508.0,155.4 509.0,155.4 510.0,155.5 511.0,155.4 512.0,155.3 513.0,155.4 514.0,155.6 515.0,155.7 516.0,155.8 517.0,155.8 518.0,155.6 519.0,155.6 520.0,155.6 521.0,155.9 522.0,155.9 523.0,155.6 524.0,155.4 525.0,155.5 526.0,155.3 527.0,155.4 528.0,155.7 529.0,155.6 530.0,155.6 531.0,155.7 532.0,155.5 533.0,155.6 534.0,155.5 535.0,155.5 536.0,155.6 537.0,155.6 538.0,155.8 539.0,155.7 540.0,155.8 541.0,155.6 542.0,155.6 543.0,155.4 544.0,155.4 545.0,155.6 546.0,155.6 547.0,155.5 548.0,155.7 549.0,155.6 550.0,155.6 551.0,155.7 552.0,155.6 553.0,155.5 554.0,155.8 555.0,155.7 556.0,155.5 557.0,155.4 558.0,155.3 559.0,155.4 560.0,155.6 561.0,155.5 562.0,155.4 563.0,155.5 564.0,155.8 565.0,155.6 566.0,155.6 567.0,155.8 568.0,155.7 569.0,155.6 570.0,155.4 571.0,155.3 572.0,155.3 573.0,155.5 574.0,155.6 575.0,155.7 576.0,155.7 577.0,155.7 578.0,155.6 579.0,155.4 580.0,155.2 581.0,155.4 582.0,155.4 583.0,155.4 584.0,155.5 585.0,155.4 586.0,155.4 587.0,155.5 588.0,155.6 589.0,155.5 590.0,155.6 591.0,155.5 592.0,155.5 593.0,155.6 594.0,155.8 595.0,155.7 596.0,155.8 597.0,155.9 598.0,155.8 599.0,155.7 600.0,155.8 601.0,155.7 602.0,155.6 603.0,155.6 604.0,155.7 605.0,155.6 606.0,155.6 607.0,155.7 608.0,155.5 609.0,155.5 610.0,155.7 611.0,155.8 612.0,155.7 613.0,155.6 614.0,155.7 615.0,155.8 616.0,155.8 617.0,155.5 618.0,155.6 619.0,155.5 620.0,155.3 621.0,155.5 622.0,155.7 623.0,155.6 624.0,155.5 625.0,155.7 626.0,155.8 627.0,155.7 628.0,155.5 629.0,155.6 630.0,155.7 631.0,155.5 632.0,155.5 633.0,155.7 634.0,155.8 635.0,155.4 636.0,155.1 637.0,155.2 638.0,155.4 639.0,155.6 640.0,155.7 641.0,155.6 642.0,155.5 643.0,155.5 644.0,155.5 645.0,155.5 646.0,155.6 647.0,156.0 648.0,155.8 649.0,155.5 650.0,155.4 651.0,155.4 652.0,155.3 653.0,155.4 654.0,155.5 655.0,155.6 656.0,155.5 657.0,155.3 658.0,155.2 659.0,155.2 660.0,155.3 661.0,155.4 662.0,155.4 663.0,155.3 664.0,155.3 665.0,155.2 666.0,155.0 667.0,154.7 668.0,154.8 669.0,155.0 670.0,155.1 671.0,154.9 672.0,154.7 673.0,154.5 674.0,154.3 675.0,154.2 676.0,154.2 677.0,154.0 678.0,153.7 679.0,153.5 680.0,153.4 681.0,153.2 682.0,152.9 683.0,152.9 684.0,152.6 685.0,152.3 686.0,152.3 687.0,152.0 688.0,151.6 689.0,151.3 690.0,150.8 691.0,150.4 692.0,150.0 693.0,149.8 694.0,149.2 695.0,148.8 696.0,148.2 697.0,147.6 698.0,147.2 699.0,146.8 700.0,146.4 701.0,146.1 702.0,145.6 703.0,145.3 704.0,144.9 705.0,144.9 706.0,144.8 707.0,144.8 708.0,144.8 709.0,144.9 710.0,145.0 711.0,145.0 712.0,144.9 713.0,145.0 714.0,145.2 715.0,145.2 716.0,145.5 717.0,145.9 718.0,145.8 719.0,146.3 720.0,146.8 721.0,147.1 722.0,147.7 723.0,147.8 724.0,148.5 725.0,149.0 726.0,149.3 727.0,149.4 728.0,149.7 729.0,150.0 730.0,150.4 731.0,150.5 732.0,150.8 733.0,151.1 734.0,151.0 735.0,151.2 736.0,151.4 737.0,151.4 738.0,151.8 739.0,151.9 740.0,151.8 741.0,152.0 742.0,152.1 743.0,152.2 744.0,152.4 745.0,152.5 746.0,152.7 747.0,152.7 748.0,152.9 749.0,153.0 750.0,153.1 751.0,153.0 752.0,153.0 753.0,153.1 754.0,153.4 755.0,153.7 756.0,153.9 757.0,153.8 758.0,153.7 759.0,153.6 760.0,153.7 761.0,153.8 762.0,154.0 763.0,153.9 764.0,153.7 765.0,153.8 766.0,154.0 767.0,154.0 768.0,154.0 769.0,154.1 770.0,154.0 771.0,154.0 772.0,153.9 773.0,153.9 774.0,154.1 775.0,154.0 776.0,154.0 777.0,154.1 778.0,154.3 779.0,154.3 780.0,154.2 781.0,154.1 782.0,154.2 783.0,154.2 784.0,154.4 785.0,154.5 786.0,154.6 787.0,154.8 788.0,154.7 789.0,154.6 790.0,154.6 791.0,154.6 792.0,154.7 793.0,154.7 794.0,154.5 795.0,154.7 796.0,154.8 797.0,154.8 798.0,154.7 799.0,154.5 800.0,154.5 801.0,154.9 802.0,154.7 803.0,154.5 804.0,154.6 805.0,154.6 806.0,154.3 807.0,154.2 808.0,154.3" fill="none" stroke="#007800" stroke-width="3.5" stroke-linejoin="round" stroke-linecap="round"/>
<rect x="63.1" y="6.8" width="745.5" height="557.7" fill="none" stroke="#000" stroke-width="2.4"/>
<path d="M63.1 38h10.5 M63.1 81.6h5.5 M63.1 125h10.5 M63.1 168.5h5.5 M63.1 211.8h10.5 M63.1 255.2h5.5 M63.1 298.7h10.5 M63.1 342.5h5.5 M63.1 386.3h10.5 M63.1 429.8h5.5 M63.1 473.3h10.5 M63.1 516.5h5.5 M89.6 564.5v-10 M134.6 564.5v-5 M179.5 564.5v-10 M224.5 564.5v-5 M269.4 564.5v-10 M314.4 564.5v-5 M359.4 564.5v-10 M404.3 564.5v-5 M449.3 564.5v-10 M494.2 564.5v-5 M539.2 564.5v-10 M584.2 564.5v-5 M629.1 564.5v-10 M674.1 564.5v-5 M719.0 564.5v-10 M764.0 564.5v-5" stroke="#000" stroke-width="2.2" fill="none"/>
<g font-size="25.7" text-anchor="middle">
<text x="89.5" y="595.2">10</text>
<text x="179.4" y="595.2">20</text>
<text x="269.3" y="595.2">30</text>
<text x="359.3" y="595.2">40</text>
<text x="449.2" y="595.2">50</text>
<text x="539.1" y="595.2">60</text>
<text x="629.0" y="595.2">70</text>
<text x="718.9" y="595.2">80</text>
<text x="808.9" y="595.2">90</text>
</g>
<text x="433.2" y="632.5" font-size="30" text-anchor="middle">2θ(Degree)</text>
<text transform="translate(38.4 294) rotate(-90)" font-size="33" text-anchor="middle">Intensity (Arb. units)</text>
<text x="3.8" y="44.8" font-size="39" letter-spacing="0.6">(a)</text>
<g font-size="25">
<text x="196.5" y="31">(00.2)</text><text x="198.5" y="55.7">dn = 4.5</text>
<text x="130.8" y="161.6">(00.2)</text><text x="107.8" y="189.5">dn = 3.9</text>
<text x="192.3" y="276.5">(00.2)</text><text x="193" y="301.6">dn = 4.2</text>
<text x="108" y="433.6" font-size="25.5">(00.2)</text><text x="111.5" y="461.9" font-size="25.3">dn=7.8</text>
<text x="366" y="215.6" font-size="25.6">(10.<tspan font-style="italic">l</tspan>)</text>
<text x="687" y="223.2" font-size="25.6">(11.<tspan font-style="italic">l</tspan>)</text>
<text x="374" y="529.6" font-size="25.4">(10)</text>
<text x="681" y="547.5" font-size="25.6">(11)</text>
</g>
<g font-size="27.3">
<text x="523" y="144.5">rGO_Mg-gl</text>
<text x="522.7" y="268">rGO_AB-gl</text>
<text x="522.8" y="393.2" font-size="30">rGO_S-gl</text>
<text x="523" y="544" font-size="27.7">Initial GO</text>
</g>
<text id="legend" x="332.3" y="29.5" font-size="22.8">* - Na<tspan font-size="14" dy="8">2</tspan><tspan dy="-8">Mg(CO</tspan><tspan font-size="14" dy="8">3</tspan><tspan dy="-8">)</tspan><tspan font-size="14" dy="8">2</tspan><tspan dy="-8">; # - BaCO</tspan><tspan font-size="14" dy="8">3</tspan><tspan dy="-8">; o - Na</tspan><tspan font-size="14" dy="8">2</tspan><tspan dy="-8">SiO</tspan><tspan font-size="14" dy="8">3</tspan><tspan dy="-8">; x - MgO</tspan></text>
<g font-size="19" text-anchor="middle">
<text x="125.1" y="265.5">#</text>
<text x="154.3" y="252">*</text>
<text x="238.2" y="199.8">#</text>
<text x="274.8" y="258">#</text>
<text x="309" y="271.5">*</text>
<text x="319.4" y="274">#</text>
</g>
<g font-size="18" font-weight="bold" text-anchor="middle">
<text x="333.1" y="279.5">x</text>
<text x="166.5" y="315">o</text>
<text x="138.5" y="373">o</text>
<text x="254.2" y="389">o</text>
<text x="312.4" y="390.5">o</text>
<text x="419.7" y="399">o</text>
</g>
<g stroke="#111" stroke-width="1.7" fill="none" stroke-dasharray="4.6 3.1 1 3.1" stroke-dashoffset="1.3">
<line x1="1022.3" y1="39" x2="1022.3" y2="564.0"/><line x1="1113.4" y1="39" x2="1113.4" y2="564.0"/>
</g>
<polyline points="890.5,564.8 891.5,564.6 892.5,564.5 893.5,564.6 894.5,564.7 895.5,563.5 896.5,564.2 897.5,563.9 898.5,563.7 899.5,563.9 900.5,564.0 901.5,563.8 902.5,563.3 903.5,563.6 904.5,564.5 905.5,563.2 906.5,562.9 907.5,563.6 908.5,563.7 909.5,563.5 910.5,562.8 911.5,563.6 912.5,562.8 913.5,562.6 914.5,562.7 915.5,562.8 916.5,563.1 917.5,563.0 918.5,562.6 919.5,562.9 920.5,562.5 921.5,562.8 922.5,561.7 923.5,561.6 924.5,562.4 925.5,561.5 926.5,561.8 927.5,561.8 928.5,561.6 929.5,561.5 930.5,562.1 931.5,560.4 932.5,561.7 933.5,562.2 934.5,561.2 935.5,561.0 936.5,561.2 937.5,561.5 938.5,560.2 939.5,560.6 940.5,560.4 941.5,560.5 942.5,560.2 943.5,560.3 944.5,559.7 945.5,559.8 946.5,559.4 947.5,559.2 948.5,559.3 949.5,559.1 950.5,558.5 951.5,559.4 952.5,558.6 953.5,557.9 954.5,558.7 955.5,557.8 956.5,558.1 957.5,557.6 958.5,557.5 959.5,557.2 960.5,556.7 961.5,556.7 962.5,557.2 963.5,555.2 964.5,555.9 965.5,555.7 966.5,554.8 967.5,554.3 968.5,555.4 969.5,554.0 970.5,554.6 971.5,553.5 972.5,552.9 973.5,552.6 974.5,552.2 975.5,551.8 976.5,551.0 977.5,550.3 978.5,549.7 979.5,549.5 980.5,548.5 981.5,547.0 982.5,546.4 983.5,545.9 984.5,544.5 985.5,543.6 986.5,542.3 987.5,541.5 988.5,540.5 989.5,539.4 990.5,537.6 991.5,536.9 992.5,534.3 993.5,533.9 994.5,531.1 995.5,528.8 996.5,526.3 997.5,523.0 998.5,521.6 999.5,519.0 1000.5,516.9 1001.5,512.6 1002.5,510.8 1003.5,506.6 1004.5,503.6 1005.5,498.8 1006.5,496.2 1007.5,492.4 1008.5,489.2 1009.5,485.4 1010.5,481.5 1011.5,479.1 1012.5,476.0 1013.5,473.3 1014.5,471.1 1015.5,469.2 1016.5,467.3 1017.5,465.8 1018.5,465.2 1019.5,466.2 1020.5,466.2 1021.5,466.6 1022.5,467.3 1023.5,468.8 1024.5,470.3 1025.5,471.9 1026.5,473.6 1027.5,476.9 1028.5,478.3 1029.5,480.4 1030.5,482.5 1031.5,485.2 1032.5,488.3 1033.5,490.9 1034.5,493.1 1035.5,495.7 1036.5,498.0 1037.5,500.1 1038.5,503.5 1039.5,505.4 1040.5,508.4 1041.5,509.3 1042.5,511.5 1043.5,513.9 1044.5,515.3 1045.5,516.5 1046.5,518.3 1047.5,520.3 1048.5,521.8 1049.5,522.9 1050.5,524.5 1051.5,525.6 1052.5,526.2 1053.5,527.0 1054.5,527.6 1055.5,528.6 1056.5,529.2 1057.5,529.4 1058.5,529.9 1059.5,529.9 1060.5,529.7 1061.5,530.0 1062.5,530.9 1063.5,530.9 1064.5,531.5 1065.5,531.0 1066.5,531.4 1067.5,531.7 1068.5,531.6 1069.5,531.1 1070.5,531.4 1071.5,531.7 1072.5,531.4 1073.5,532.2 1074.5,532.5 1075.5,532.0 1076.5,533.1 1077.5,532.3 1078.5,532.3 1079.5,532.2 1080.5,531.8 1081.5,532.0 1082.5,531.5 1083.5,531.6 1084.5,530.6 1085.5,529.8 1086.5,528.6 1087.5,527.1 1088.5,526.4 1089.5,524.8 1090.5,524.0 1091.5,522.0 1092.5,520.9 1093.5,518.6 1094.5,516.6 1095.5,514.2 1096.5,511.8 1097.5,509.6 1098.5,507.2 1099.5,503.9 1100.5,501.7 1101.5,499.8 1102.5,496.0 1103.5,493.1 1104.5,490.2 1105.5,487.1 1106.5,485.5 1107.5,482.5 1108.5,480.1 1109.5,478.4 1110.5,476.6 1111.5,473.3 1112.5,472.5 1113.5,471.1 1114.5,470.1 1115.5,469.9 1116.5,470.0 1117.5,471.8 1118.5,473.4 1119.5,476.1 1120.5,480.3 1121.5,484.9 1122.5,490.1 1123.5,496.0 1124.5,502.8 1125.5,508.6 1126.5,514.5 1127.5,520.0 1128.5,525.6 1129.5,530.2 1130.5,534.9 1131.5,538.7 1132.5,541.0 1133.5,544.5 1134.5,547.0 1135.5,548.7 1136.5,549.8 1137.5,552.0 1138.5,552.3 1139.5,552.9 1140.5,553.7 1141.5,554.7 1142.5,555.6 1143.5,556.1 1144.5,556.0 1145.5,555.8 1146.5,556.2 1147.5,556.3 1148.5,556.8 1149.5,556.3 1150.5,557.2 1151.5,557.5 1152.5,557.3 1153.5,557.7 1154.5,557.2 1155.5,557.1 1156.5,557.5 1157.5,558.2 1158.5,558.3 1159.5,557.7 1160.5,558.4 1161.5,557.9 1162.5,558.7 1163.5,558.3 1164.5,558.0 1165.5,558.5 1166.5,557.9 1167.5,557.9 1168.5,557.7 1169.5,558.4 1170.5,558.4 1171.5,558.4 1172.5,558.3 1173.5,559.1 1174.5,558.3 1175.5,558.3 1176.5,559.1 1177.5,559.2 1178.5,558.8 1179.5,558.0 1180.5,558.5 1181.5,559.0 1182.5,558.8 1183.5,559.4 1184.5,558.3 1185.5,559.1 1186.5,558.6 1187.5,559.5 1188.5,558.9 1189.5,559.4 1190.5,558.8 1191.5,558.5 1192.5,558.6 1193.5,558.9 1194.5,558.7 1195.5,559.6 1196.5,559.7 1197.5,559.3 1198.5,558.8 1199.5,559.2 1200.5,559.0 1201.5,559.9 1202.5,559.5 1203.5,559.6 1204.5,559.3 1205.5,558.6 1206.5,559.2 1207.5,559.1 1208.5,559.7 1209.5,559.6 1210.5,559.3 1211.5,559.5 1212.5,560.3 1213.5,559.3 1214.5,559.3 1215.5,559.6 1216.5,559.5 1217.5,559.6 1218.5,560.0 1219.5,560.5 1220.5,559.2 1221.5,559.9 1222.5,560.0 1223.5,559.9 1224.5,559.9 1225.5,559.9 1226.5,560.5 1227.5,559.9 1228.5,560.1 1229.5,560.2 1230.5,560.2 1231.5,560.1 1232.5,560.6 1233.5,560.3 1234.5,560.4 1235.5,560.3 1236.5,560.0 1237.5,560.1 1238.5,560.0 1239.5,560.5 1240.5,560.2 1241.5,560.1 1242.5,560.7 1243.5,560.8 1244.5,559.9 1245.5,561.3 1246.5,560.7 1247.5,560.7 1248.5,561.2 1249.5,560.8 1250.5,560.6 1251.5,561.7 1252.5,560.5 1253.5,560.9 1254.5,561.3 1255.5,560.6 1256.5,561.0 1257.5,561.2 1258.5,562.0 1259.5,560.8 1260.5,561.1 1261.5,561.4 1262.5,561.3 1263.5,560.8" fill="none" stroke="#000" stroke-width="3.5" stroke-linejoin="round" stroke-linecap="round"/>
<polyline points="890.5,393.9 891.5,393.8 892.5,393.8 893.5,393.8 894.5,393.7 895.5,393.5 896.5,393.4 897.5,393.0 898.5,393.1 899.5,393.0 900.5,392.8 901.5,392.8 902.5,392.6 903.5,392.8 904.5,392.8 905.5,392.3 906.5,392.3 907.5,392.1 908.5,392.2 909.5,392.0 910.5,391.8 911.5,391.6 912.5,391.5 913.5,391.3 914.5,391.4 915.5,391.0 916.5,391.1 917.5,390.9 918.5,390.9 919.5,390.6 920.5,390.6 921.5,390.1 922.5,390.2 923.5,389.9 924.5,389.8 925.5,389.7 926.5,389.6 927.5,389.0 928.5,389.2 929.5,388.7 930.5,389.0 931.5,388.3 932.5,388.2 933.5,388.0 934.5,388.2 935.5,387.6 936.5,387.6 937.5,387.3 938.5,386.9 939.5,386.9 940.5,386.8 941.5,386.4 942.5,386.3 943.5,385.9 944.5,385.6 945.5,385.3 946.5,385.1 947.5,385.1 948.5,384.6 949.5,384.2 950.5,383.8 951.5,383.4 952.5,383.4 953.5,382.7 954.5,382.3 955.5,382.1 956.5,381.6 957.5,381.6 958.5,380.5 959.5,380.5 960.5,380.1 961.5,379.3 962.5,378.9 963.5,378.6 964.5,378.2 965.5,377.3 966.5,376.6 967.5,376.4 968.5,375.9 969.5,374.9 970.5,374.0 971.5,373.8 972.5,372.8 973.5,372.3 974.5,371.3 975.5,370.4 976.5,369.5 977.5,368.9 978.5,367.9 979.5,366.4 980.5,365.5 981.5,364.8 982.5,363.3 983.5,362.0 984.5,360.9 985.5,359.6 986.5,358.2 987.5,356.7 988.5,355.1 989.5,353.5 990.5,352.0 991.5,350.0 992.5,348.3 993.5,346.4 994.5,344.6 995.5,342.4 996.5,340.2 997.5,338.0 998.5,335.7 999.5,333.4 1000.5,330.8 1001.5,328.5 1002.5,325.9 1003.5,323.0 1004.5,320.3 1005.5,317.8 1006.5,315.1 1007.5,312.3 1008.5,309.5 1009.5,306.9 1010.5,304.8 1011.5,302.5 1012.5,300.3 1013.5,298.0 1014.5,296.5 1015.5,294.7 1016.5,293.5 1017.5,292.5 1018.5,291.5 1019.5,291.1 1020.5,290.8 1021.5,291.2 1022.5,291.7 1023.5,292.9 1024.5,294.1 1025.5,295.7 1026.5,297.4 1027.5,299.3 1028.5,301.7 1029.5,304.1 1030.5,306.8 1031.5,309.5 1032.5,312.0 1033.5,315.0 1034.5,317.8 1035.5,320.6 1036.5,323.5 1037.5,326.3 1038.5,328.6 1039.5,331.2 1040.5,333.3 1041.5,335.9 1042.5,338.1 1043.5,339.9 1044.5,342.2 1045.5,344.1 1046.5,345.6 1047.5,347.3 1048.5,348.6 1049.5,350.2 1050.5,351.1 1051.5,352.4 1052.5,353.8 1053.5,354.4 1054.5,355.3 1055.5,355.9 1056.5,356.4 1057.5,357.1 1058.5,357.6 1059.5,357.8 1060.5,358.4 1061.5,358.8 1062.5,359.0 1063.5,358.8 1064.5,359.0 1065.5,359.0 1066.5,359.5 1067.5,359.5 1068.5,359.5 1069.5,359.3 1070.5,359.2 1071.5,359.4 1072.5,359.3 1073.5,359.2 1074.5,359.2 1075.5,359.2 1076.5,359.1 1077.5,358.7 1078.5,358.4 1079.5,358.5 1080.5,358.3 1081.5,357.9 1082.5,357.6 1083.5,357.1 1084.5,356.8 1085.5,356.1 1086.5,355.5 1087.5,354.6 1088.5,353.8 1089.5,352.9 1090.5,351.7 1091.5,350.4 1092.5,349.2 1093.5,348.0 1094.5,346.2 1095.5,344.6 1096.5,342.4 1097.5,340.3 1098.5,337.9 1099.5,335.6 1100.5,333.3 1101.5,330.4 1102.5,327.6 1103.5,324.6 1104.5,321.3 1105.5,318.1 1106.5,314.8 1107.5,311.5 1108.5,308.2 1109.5,304.9 1110.5,301.8 1111.5,298.8 1112.5,296.3 1113.5,294.2 1114.5,293.0 1115.5,291.7 1116.5,292.1 1117.5,293.5 1118.5,295.0 1119.5,297.9 1120.5,302.1 1121.5,307.2 1122.5,312.6 1123.5,318.9 1124.5,325.4 1125.5,332.0 1126.5,339.2 1127.5,345.1 1128.5,350.9 1129.5,356.4 1130.5,361.4 1131.5,365.7 1132.5,369.5 1133.5,372.6 1134.5,375.1 1135.5,377.7 1136.5,379.6 1137.5,381.2 1138.5,382.4 1139.5,383.7 1140.5,384.7 1141.5,385.7 1142.5,386.3 1143.5,387.2 1144.5,387.8 1145.5,388.1 1146.5,388.6 1147.5,389.0 1148.5,389.7 1149.5,389.5 1150.5,390.2 1151.5,390.3 1152.5,390.7 1153.5,391.2 1154.5,391.2 1155.5,391.5 1156.5,391.6 1157.5,392.2 1158.5,392.2 1159.5,392.4 1160.5,392.2 1161.5,392.4 1162.5,392.8 1163.5,392.8 1164.5,392.9 1165.5,393.1 1166.5,393.0 1167.5,393.4 1168.5,393.4 1169.5,393.6 1170.5,393.5 1171.5,393.8 1172.5,393.7 1173.5,394.1 1174.5,394.2 1175.5,394.2 1176.5,394.3 1177.5,394.4 1178.5,394.0 1179.5,394.6 1180.5,394.5 1181.5,394.6 1182.5,394.6 1183.5,394.5 1184.5,394.7 1185.5,395.0 1186.5,395.2 1187.5,394.9 1188.5,394.9 1189.5,395.4 1190.5,395.1 1191.5,395.6 1192.5,395.3 1193.5,395.3 1194.5,395.6 1195.5,395.8 1196.5,395.3 1197.5,395.8 1198.5,395.6 1199.5,395.9 1200.5,395.7 1201.5,395.6 1202.5,396.0 1203.5,396.1 1204.5,396.3 1205.5,396.3 1206.5,396.2 1207.5,396.1 1208.5,396.1 1209.5,396.2 1210.5,396.2 1211.5,396.3 1212.5,396.0 1213.5,396.5 1214.5,396.5 1215.5,396.9 1216.5,396.7 1217.5,396.6 1218.5,396.8 1219.5,396.5 1220.5,396.7 1221.5,396.5 1222.5,397.1 1223.5,397.0 1224.5,396.8 1225.5,397.0 1226.5,397.2 1227.5,397.2 1228.5,397.2 1229.5,397.1 1230.5,397.1 1231.5,397.3 1232.5,397.5 1233.5,397.2 1234.5,397.2 1235.5,397.6 1236.5,397.4 1237.5,397.7 1238.5,397.6 1239.5,397.8 1240.5,397.9 1241.5,397.8 1242.5,397.9 1243.5,397.7 1244.5,397.8 1245.5,398.0 1246.5,398.2 1247.5,398.2 1248.5,398.4 1249.5,398.1 1250.5,398.1 1251.5,398.3 1252.5,398.2 1253.5,398.2 1254.5,398.1 1255.5,398.5 1256.5,398.2 1257.5,398.5 1258.5,398.3 1259.5,398.7 1260.5,398.4 1261.5,398.7 1262.5,398.4 1263.5,398.6" fill="none" stroke="#f00" stroke-width="3.5" stroke-linejoin="round" stroke-linecap="round"/>
<polyline points="890.5,279.6 891.5,279.2 892.5,279.1 893.5,278.9 894.5,278.4 895.5,278.7 896.5,278.5 897.5,278.1 898.5,278.2 899.5,277.8 900.5,277.6 901.5,277.5 902.5,277.2 903.5,277.5 904.5,276.7 905.5,276.9 906.5,276.7 907.5,276.1 908.5,275.9 909.5,276.1 910.5,275.7 911.5,275.6 912.5,275.5 913.5,275.1 914.5,274.8 915.5,274.3 916.5,274.5 917.5,274.1 918.5,274.1 919.5,273.8 920.5,273.4 921.5,273.6 922.5,273.3 923.5,273.0 924.5,272.4 925.5,272.3 926.5,272.0 927.5,271.8 928.5,271.4 929.5,271.4 930.5,271.1 931.5,270.8 932.5,270.4 933.5,270.4 934.5,269.9 935.5,269.2 936.5,269.2 937.5,268.9 938.5,268.8 939.5,268.3 940.5,267.9 941.5,267.5 942.5,267.4 943.5,266.9 944.5,266.5 945.5,266.1 946.5,265.9 947.5,265.3 948.5,264.8 949.5,264.7 950.5,264.1 951.5,263.8 952.5,263.4 953.5,263.1 954.5,262.6 955.5,261.9 956.5,261.4 957.5,260.8 958.5,260.7 959.5,260.0 960.5,259.6 961.5,258.8 962.5,257.9 963.5,257.9 964.5,257.0 965.5,256.4 966.5,255.7 967.5,255.1 968.5,254.4 969.5,253.4 970.5,253.0 971.5,252.0 972.5,251.2 973.5,250.7 974.5,249.7 975.5,248.7 976.5,247.5 977.5,246.9 978.5,245.9 979.5,244.8 980.5,243.5 981.5,242.5 982.5,241.2 983.5,240.3 984.5,239.1 985.5,237.8 986.5,236.2 987.5,234.9 988.5,233.5 989.5,231.8 990.5,230.2 991.5,228.9 992.5,226.8 993.5,225.1 994.5,223.1 995.5,221.2 996.5,218.9 997.5,217.1 998.5,215.1 999.5,213.0 1000.5,210.6 1001.5,208.1 1002.5,205.6 1003.5,203.1 1004.5,200.7 1005.5,198.3 1006.5,195.5 1007.5,193.3 1008.5,190.5 1009.5,187.9 1010.5,185.7 1011.5,183.3 1012.5,181.2 1013.5,179.5 1014.5,177.5 1015.5,175.9 1016.5,174.6 1017.5,173.4 1018.5,172.3 1019.5,171.9 1020.5,171.4 1021.5,171.4 1022.5,171.7 1023.5,172.0 1024.5,173.0 1025.5,174.3 1026.5,175.9 1027.5,177.4 1028.5,179.3 1029.5,181.6 1030.5,183.8 1031.5,186.1 1032.5,188.5 1033.5,190.7 1034.5,193.2 1035.5,195.7 1036.5,198.0 1037.5,200.4 1038.5,203.0 1039.5,204.9 1040.5,206.9 1041.5,209.2 1042.5,211.3 1043.5,212.9 1044.5,214.8 1045.5,216.1 1046.5,217.6 1047.5,219.0 1048.5,220.3 1049.5,221.8 1050.5,222.4 1051.5,223.8 1052.5,224.3 1053.5,225.3 1054.5,226.1 1055.5,226.8 1056.5,227.3 1057.5,227.5 1058.5,228.3 1059.5,228.5 1060.5,229.4 1061.5,229.2 1062.5,229.5 1063.5,229.6 1064.5,229.8 1065.5,229.9 1066.5,230.3 1067.5,230.2 1068.5,230.4 1069.5,230.2 1070.5,230.3 1071.5,230.5 1072.5,230.1 1073.5,229.9 1074.5,230.2 1075.5,229.8 1076.5,229.8 1077.5,229.8 1078.5,229.3 1079.5,229.3 1080.5,228.7 1081.5,228.6 1082.5,228.2 1083.5,227.4 1084.5,226.9 1085.5,226.1 1086.5,225.6 1087.5,224.9 1088.5,223.6 1089.5,223.0 1090.5,221.5 1091.5,220.4 1092.5,218.9 1093.5,218.1 1094.5,216.2 1095.5,214.5 1096.5,212.6 1097.5,210.9 1098.5,208.3 1099.5,206.4 1100.5,204.4 1101.5,201.5 1102.5,199.0 1103.5,196.4 1104.5,193.5 1105.5,190.8 1106.5,188.1 1107.5,185.1 1108.5,182.4 1109.5,179.7 1110.5,177.4 1111.5,175.3 1112.5,173.9 1113.5,172.7 1114.5,172.2 1115.5,172.2 1116.5,174.0 1117.5,176.2 1118.5,179.1 1119.5,183.0 1120.5,188.1 1121.5,194.0 1122.5,199.8 1123.5,206.3 1124.5,212.9 1125.5,219.5 1126.5,225.4 1127.5,231.0 1128.5,236.1 1129.5,241.0 1130.5,244.9 1131.5,248.2 1132.5,251.0 1133.5,253.6 1134.5,256.0 1135.5,257.6 1136.5,259.4 1137.5,260.6 1138.5,261.7 1139.5,262.8 1140.5,263.6 1141.5,264.2 1142.5,264.9 1143.5,265.9 1144.5,266.0 1145.5,266.6 1146.5,267.3 1147.5,267.5 1148.5,267.8 1149.5,268.0 1150.5,268.7 1151.5,269.0 1152.5,269.4 1153.5,269.4 1154.5,269.8 1155.5,269.8 1156.5,270.2 1157.5,270.3 1158.5,270.6 1159.5,270.9 1160.5,271.1 1161.5,271.0 1162.5,271.5 1163.5,271.4 1164.5,271.4 1165.5,271.7 1166.5,271.7 1167.5,272.0 1168.5,272.2 1169.5,272.2 1170.5,272.5 1171.5,272.5 1172.5,272.6 1173.5,272.5 1174.5,272.9 1175.5,272.8 1176.5,273.0 1177.5,273.1 1178.5,273.3 1179.5,273.1 1180.5,273.2 1181.5,273.5 1182.5,273.7 1183.5,273.8 1184.5,273.9 1185.5,274.1 1186.5,274.0 1187.5,274.0 1188.5,273.9 1189.5,274.0 1190.5,274.2 1191.5,274.4 1192.5,274.4 1193.5,274.5 1194.5,274.5 1195.5,274.7 1196.5,274.7 1197.5,274.8 1198.5,274.8 1199.5,274.8 1200.5,274.8 1201.5,275.0 1202.5,275.1 1203.5,275.1 1204.5,275.1 1205.5,275.6 1206.5,275.2 1207.5,275.3 1208.5,275.4 1209.5,275.3 1210.5,275.5 1211.5,275.8 1212.5,275.7 1213.5,275.8 1214.5,275.8 1215.5,275.8 1216.5,276.0 1217.5,275.8 1218.5,275.9 1219.5,276.0 1220.5,276.2 1221.5,276.1 1222.5,276.2 1223.5,275.9 1224.5,276.4 1225.5,276.6 1226.5,276.5 1227.5,276.3 1228.5,276.3 1229.5,276.5 1230.5,276.4 1231.5,276.7 1232.5,276.5 1233.5,276.8 1234.5,276.9 1235.5,276.4 1236.5,276.8 1237.5,276.7 1238.5,276.7 1239.5,276.8 1240.5,276.9 1241.5,277.2 1242.5,276.8 1243.5,277.3 1244.5,277.4 1245.5,277.3 1246.5,277.3 1247.5,277.3 1248.5,277.1 1249.5,277.5 1250.5,277.5 1251.5,277.6 1252.5,277.9 1253.5,277.7 1254.5,277.7 1255.5,277.9 1256.5,277.5 1257.5,277.6 1258.5,277.7 1259.5,277.7 1260.5,278.0 1261.5,277.9 1262.5,278.2 1263.5,278.2" fill="none" stroke="#00f" stroke-width="3.5" stroke-linejoin="round" stroke-linecap="round"/>
<polyline points="890.5,160.0 891.5,159.6 892.5,159.6 893.5,159.5 894.5,159.0 895.5,159.0 896.5,158.9 897.5,158.7 898.5,158.7 899.5,158.4 900.5,157.9 901.5,157.9 902.5,157.6 903.5,157.6 904.5,157.2 905.5,157.2 906.5,157.0 907.5,156.9 908.5,156.5 909.5,156.1 910.5,156.4 911.5,155.9 912.5,155.9 913.5,155.5 914.5,155.4 915.5,155.3 916.5,154.9 917.5,154.8 918.5,154.1 919.5,154.3 920.5,153.9 921.5,153.6 922.5,153.4 923.5,153.2 924.5,153.2 925.5,152.4 926.5,152.4 927.5,152.0 928.5,152.1 929.5,151.6 930.5,151.4 931.5,151.0 932.5,150.9 933.5,150.6 934.5,150.1 935.5,149.9 936.5,149.4 937.5,149.3 938.5,149.1 939.5,148.5 940.5,148.4 941.5,147.6 942.5,147.3 943.5,147.0 944.5,146.8 945.5,146.5 946.5,146.1 947.5,145.7 948.5,145.4 949.5,144.8 950.5,144.2 951.5,143.8 952.5,143.9 953.5,142.7 954.5,142.6 955.5,142.3 956.5,141.7 957.5,141.0 958.5,140.5 959.5,140.1 960.5,139.6 961.5,138.7 962.5,138.3 963.5,137.6 964.5,137.1 965.5,136.5 966.5,135.5 967.5,134.6 968.5,134.1 969.5,133.6 970.5,132.6 971.5,131.7 972.5,131.2 973.5,129.7 974.5,129.1 975.5,127.9 976.5,127.0 977.5,126.0 978.5,125.1 979.5,123.6 980.5,122.5 981.5,121.2 982.5,120.2 983.5,118.8 984.5,117.5 985.5,115.9 986.5,114.6 987.5,113.3 988.5,111.5 989.5,110.0 990.5,108.3 991.5,106.4 992.5,104.5 993.5,103.0 994.5,101.0 995.5,99.1 996.5,96.7 997.5,94.7 998.5,92.5 999.5,90.6 1000.5,88.7 1001.5,86.4 1002.5,84.1 1003.5,82.0 1004.5,79.8 1005.5,77.5 1006.5,75.4 1007.5,73.3 1008.5,70.9 1009.5,69.2 1010.5,67.5 1011.5,65.5 1012.5,63.8 1013.5,62.2 1014.5,60.9 1015.5,59.9 1016.5,58.7 1017.5,57.8 1018.5,56.9 1019.5,57.0 1020.5,56.8 1021.5,57.0 1022.5,57.8 1023.5,58.6 1024.5,59.2 1025.5,60.8 1026.5,62.2 1027.5,63.7 1028.5,65.8 1029.5,67.4 1030.5,69.6 1031.5,71.7 1032.5,74.0 1033.5,76.6 1034.5,78.5 1035.5,80.8 1036.5,83.1 1037.5,85.4 1038.5,87.4 1039.5,89.6 1040.5,91.2 1041.5,93.0 1042.5,94.8 1043.5,96.4 1044.5,97.7 1045.5,99.3 1046.5,100.7 1047.5,101.5 1048.5,102.7 1049.5,103.8 1050.5,104.3 1051.5,105.1 1052.5,105.7 1053.5,106.6 1054.5,107.2 1055.5,107.5 1056.5,108.0 1057.5,108.6 1058.5,108.9 1059.5,108.8 1060.5,109.3 1061.5,109.5 1062.5,109.8 1063.5,109.9 1064.5,109.9 1065.5,110.1 1066.5,110.0 1067.5,110.3 1068.5,110.3 1069.5,110.5 1070.5,110.3 1071.5,110.4 1072.5,110.2 1073.5,110.2 1074.5,110.3 1075.5,110.0 1076.5,109.9 1077.5,109.5 1078.5,109.4 1079.5,108.8 1080.5,108.6 1081.5,108.1 1082.5,107.7 1083.5,107.1 1084.5,106.4 1085.5,105.8 1086.5,104.9 1087.5,104.1 1088.5,103.1 1089.5,101.9 1090.5,100.7 1091.5,99.6 1092.5,98.1 1093.5,96.8 1094.5,95.3 1095.5,93.6 1096.5,91.6 1097.5,89.6 1098.5,87.8 1099.5,85.7 1100.5,83.7 1101.5,81.2 1102.5,78.9 1103.5,76.6 1104.5,73.9 1105.5,71.5 1106.5,69.3 1107.5,66.8 1108.5,64.3 1109.5,62.1 1110.5,59.9 1111.5,58.6 1112.5,57.3 1113.5,56.7 1114.5,56.7 1115.5,57.6 1116.5,59.2 1117.5,61.8 1118.5,65.3 1119.5,69.3 1120.5,73.9 1121.5,79.5 1122.5,85.2 1123.5,91.3 1124.5,97.5 1125.5,103.2 1126.5,108.5 1127.5,113.7 1128.5,118.0 1129.5,121.9 1130.5,125.4 1131.5,128.5 1132.5,131.4 1133.5,133.2 1134.5,135.5 1135.5,137.1 1136.5,138.3 1137.5,139.5 1138.5,140.4 1139.5,141.4 1140.5,142.4 1141.5,143.0 1142.5,143.8 1143.5,144.4 1144.5,144.8 1145.5,145.3 1146.5,145.7 1147.5,146.2 1148.5,146.3 1149.5,146.9 1150.5,147.2 1151.5,147.4 1152.5,148.1 1153.5,147.9 1154.5,148.2 1155.5,148.6 1156.5,148.5 1157.5,148.9 1158.5,149.0 1159.5,149.3 1160.5,149.6 1161.5,149.8 1162.5,150.1 1163.5,150.2 1164.5,150.4 1165.5,150.5 1166.5,150.5 1167.5,150.9 1168.5,150.8 1169.5,150.9 1170.5,151.3 1171.5,151.3 1172.5,151.3 1173.5,151.5 1174.5,151.7 1175.5,151.4 1176.5,151.7 1177.5,151.7 1178.5,152.0 1179.5,151.9 1180.5,152.3 1181.5,152.3 1182.5,152.2 1183.5,152.4 1184.5,152.3 1185.5,152.6 1186.5,152.7 1187.5,152.8 1188.5,152.5 1189.5,152.8 1190.5,153.0 1191.5,153.1 1192.5,153.3 1193.5,153.0 1194.5,153.3 1195.5,153.2 1196.5,153.4 1197.5,153.5 1198.5,153.6 1199.5,153.5 1200.5,153.7 1201.5,153.5 1202.5,153.6 1203.5,153.9 1204.5,153.9 1205.5,153.7 1206.5,153.9 1207.5,154.1 1208.5,154.4 1209.5,154.4 1210.5,154.4 1211.5,154.0 1212.5,154.4 1213.5,154.5 1214.5,154.5 1215.5,154.6 1216.5,154.6 1217.5,154.9 1218.5,154.9 1219.5,154.7 1220.5,154.7 1221.5,155.2 1222.5,154.8 1223.5,155.2 1224.5,155.3 1225.5,154.9 1226.5,155.2 1227.5,155.1 1228.5,155.3 1229.5,155.4 1230.5,155.6 1231.5,155.5 1232.5,155.5 1233.5,155.7 1234.5,155.5 1235.5,155.6 1236.5,156.0 1237.5,155.6 1238.5,155.7 1239.5,155.8 1240.5,155.7 1241.5,155.6 1242.5,156.2 1243.5,155.9 1244.5,156.0 1245.5,156.1 1246.5,156.1 1247.5,156.1 1248.5,156.3 1249.5,156.7 1250.5,156.5 1251.5,156.6 1252.5,156.3 1253.5,156.6 1254.5,156.5 1255.5,156.8 1256.5,156.7 1257.5,156.8 1258.5,156.8 1259.5,156.8 1260.5,156.7 1261.5,157.1 1262.5,156.9 1263.5,156.9" fill="none" stroke="#007800" stroke-width="3.5" stroke-linejoin="round" stroke-linecap="round"/>
<path d="M890.3 6.8V564.0H1264.4" fill="none" stroke="#000" stroke-width="2.3"/>
<path d="M890.3 6.8H1264.4V564.0" fill="none" stroke="#000" stroke-width="1.9"/>
<path d="M890.3 58.8h9 M890.3 122h4.8 M890.3 185.3h9 M890.3 248.5h4.8 M890.3 311.7h9 M890.3 375h4.8 M890.3 438.2h9 M890.3 501.4h4.8 M927.7 564.0v-4.6 M965.1 564.0v-8 M1002.5 564.0v-4.6 M1039.9 564.0v-8 M1077.3 564.0v-4.6 M1114.7 564.0v-8 M1152.1 564.0v-4.6 M1189.5 564.0v-8 M1226.9 564.0v-4.6" stroke="#000" stroke-width="1.8" fill="none"/>
<text transform="translate(890.7 591.4) scale(1 1.15)" font-size="23.4" text-anchor="middle">1000</text>
<text transform="translate(965.5 591.4) scale(1 1.15)" font-size="23.4" text-anchor="middle">1200</text>
<text transform="translate(1040.3 591.4) scale(1 1.15)" font-size="23.4" text-anchor="middle">1400</text>
<text transform="translate(1115.1 591.4) scale(1 1.15)" font-size="23.4" text-anchor="middle">1600</text>
<text transform="translate(1189.9 591.4) scale(1 1.15)" font-size="23.4" text-anchor="middle">1800</text>
<text transform="translate(1264.7 591.4) scale(1 1.15)" font-size="23.4" text-anchor="middle">2000</text>
<text x="960" y="635.6" font-size="29.5">Raman Shift (cm<tspan font-size="18" dy="-12">-1</tspan><tspan dy="12">)</tspan></text>
<text transform="translate(860.4 292.6) rotate(-90)" font-size="33.2" text-anchor="middle">Intensity (Arb. units)</text>
<text x="829.3" y="43.3" font-size="39" letter-spacing="0.6">(b)</text>
<text transform="translate(945 34.5) scale(1 1.06)" font-size="22">D band</text>
<text transform="translate(929.5 61) scale(1 1.06)" font-size="22">1349 cm<tspan font-size="13" dy="-9">-1</tspan></text>
<text transform="translate(1121.3 34.8) scale(1 1.06)" font-size="22">G band</text>
<text transform="translate(1119.5 59.5) scale(1 1.06)" font-size="22">1595 cm<tspan font-size="13" dy="-9">-1</tspan></text>
<path d="M943.7 39H1021.5M1113.3 38.6H1190" stroke="#333" stroke-width="1.1" fill="none"/>
<circle cx="1021.8" cy="39" r="2.5" stroke="none"/><circle cx="1113.3" cy="38.6" r="2.5" stroke="none"/>
<text transform="translate(1148 138.6) scale(1 1.1)" font-size="24">rGO_Mg-gl</text>
<text transform="translate(1149.5 258.6) scale(1 1.1)" font-size="24">rGO_AB-gl</text>
<text transform="translate(1164.3 388.6) scale(1 1.1)" font-size="24">rGO_S-gl</text>
<text transform="translate(1163.6 548.9) scale(1 1.1)" font-size="24">Initial GO</text>
<text transform="translate(909 98.1) scale(1 1.08)" font-size="23.6" font-weight="bold">I<tspan font-size="12.6" dy="5.5">D</tspan><tspan dy="-5.5"> / I</tspan><tspan font-size="12.6" dy="5.5">G</tspan></text>
<text transform="translate(910.2 139.5) scale(1 1.08)" font-size="21.7" font-weight="bold">1.01</text>
<text transform="translate(910.2 253.4) scale(1 1.08)" font-size="21.7" font-weight="bold">1.03</text>
<text transform="translate(910.2 374.8) scale(1 1.08)" font-size="21.7" font-weight="bold">1.04</text>
<text transform="translate(910.2 548.3) scale(1 1.08)" font-size="21.7" font-weight="bold">1.09</text>
</g>
</svg>
</body></html>
